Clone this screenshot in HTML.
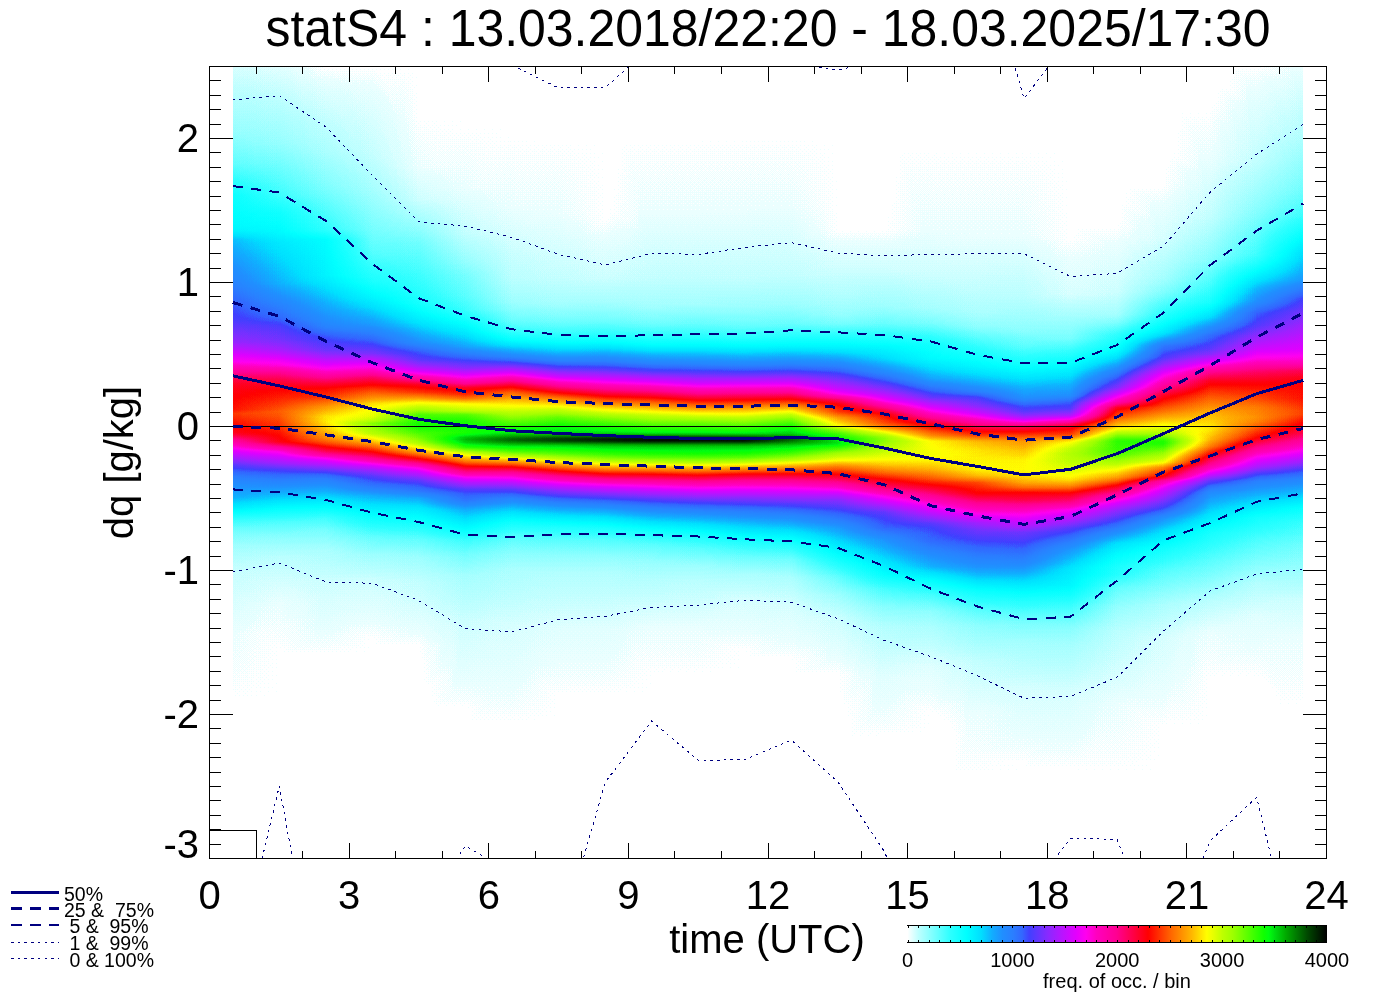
<!DOCTYPE html>
<html><head><meta charset="utf-8"><title>statS4</title>
<style>html,body{margin:0;padding:0;background:#fff;}svg{display:block;}</style>
</head><body>
<svg width="1388" height="992" viewBox="0 0 1388 992">
<defs>
<clipPath id="plotclip"><rect x="209" y="66" width="1118" height="793"/></clipPath>
<linearGradient id="c0" gradientUnits="userSpaceOnUse" x1="0" y1="66.5" x2="0" y2="858.5"><stop offset="0.0013" stop-color="#040404"/><stop offset="0.0833" stop-color="#0c0c0c"/><stop offset="0.1225" stop-color="#131313"/><stop offset="0.1465" stop-color="#1b1b1b"/><stop offset="0.1629" stop-color="#212121"/><stop offset="0.1995" stop-color="#252525"/><stop offset="0.2071" stop-color="#272727"/><stop offset="0.2184" stop-color="#313131"/><stop offset="0.2386" stop-color="#363636"/><stop offset="0.2715" stop-color="#3e3e3e"/><stop offset="0.2980" stop-color="#474747"/><stop offset="0.3207" stop-color="#4c4c4c"/><stop offset="0.3485" stop-color="#585858"/><stop offset="0.3573" stop-color="#606060"/><stop offset="0.3649" stop-color="#676767"/><stop offset="0.3725" stop-color="#6c6c6c"/><stop offset="0.3876" stop-color="#808080"/><stop offset="0.3965" stop-color="#8b8b8b"/><stop offset="0.4028" stop-color="#8f8f8f"/><stop offset="0.4217" stop-color="#939393"/><stop offset="0.4331" stop-color="#959595"/><stop offset="0.4381" stop-color="#9a9a9a"/><stop offset="0.4432" stop-color="#989898"/><stop offset="0.4533" stop-color="#939393"/><stop offset="0.4621" stop-color="#8f8f8f"/><stop offset="0.4646" stop-color="#8c8c8c"/><stop offset="0.4710" stop-color="#7e7e7e"/><stop offset="0.4848" stop-color="#676767"/><stop offset="0.5038" stop-color="#4d4d4d"/><stop offset="0.5177" stop-color="#404040"/><stop offset="0.5278" stop-color="#3a3a3a"/><stop offset="0.5442" stop-color="#333333"/><stop offset="0.5568" stop-color="#292929"/><stop offset="0.5707" stop-color="#1a1a1a"/><stop offset="0.5833" stop-color="#121212"/><stop offset="0.6035" stop-color="#0b0b0b"/><stop offset="0.6313" stop-color="#060606"/><stop offset="0.7146" stop-color="#020202"/><stop offset="0.8889" stop-color="#000000"/><stop offset="0.9987" stop-color="#000000"/></linearGradient>
<linearGradient id="c1" gradientUnits="userSpaceOnUse" x1="0" y1="66.5" x2="0" y2="858.5"><stop offset="0.0013" stop-color="#030303"/><stop offset="0.0972" stop-color="#0c0c0c"/><stop offset="0.1629" stop-color="#181818"/><stop offset="0.1843" stop-color="#202020"/><stop offset="0.2083" stop-color="#252525"/><stop offset="0.2222" stop-color="#2a2a2a"/><stop offset="0.2740" stop-color="#333333"/><stop offset="0.3043" stop-color="#404040"/><stop offset="0.3169" stop-color="#454545"/><stop offset="0.3283" stop-color="#4c4c4c"/><stop offset="0.3447" stop-color="#525252"/><stop offset="0.3573" stop-color="#5a5a5a"/><stop offset="0.3699" stop-color="#686868"/><stop offset="0.3775" stop-color="#6f6f6f"/><stop offset="0.3826" stop-color="#787878"/><stop offset="0.3864" stop-color="#7f7f7f"/><stop offset="0.3952" stop-color="#898989"/><stop offset="0.4091" stop-color="#939393"/><stop offset="0.4280" stop-color="#9b9b9b"/><stop offset="0.4356" stop-color="#9f9f9f"/><stop offset="0.4407" stop-color="#9e9e9e"/><stop offset="0.4482" stop-color="#9b9b9b"/><stop offset="0.4558" stop-color="#989898"/><stop offset="0.4659" stop-color="#939393"/><stop offset="0.4735" stop-color="#909090"/><stop offset="0.4747" stop-color="#8e8e8e"/><stop offset="0.4773" stop-color="#878787"/><stop offset="0.4811" stop-color="#7b7b7b"/><stop offset="0.4861" stop-color="#6e6e6e"/><stop offset="0.4924" stop-color="#646464"/><stop offset="0.5013" stop-color="#585858"/><stop offset="0.5088" stop-color="#4c4c4c"/><stop offset="0.5202" stop-color="#414141"/><stop offset="0.5480" stop-color="#2c2c2c"/><stop offset="0.5619" stop-color="#202020"/><stop offset="0.5745" stop-color="#161616"/><stop offset="0.5922" stop-color="#0e0e0e"/><stop offset="0.6187" stop-color="#070707"/><stop offset="0.6780" stop-color="#020202"/><stop offset="0.7967" stop-color="#000000"/><stop offset="0.9987" stop-color="#000000"/></linearGradient>
<linearGradient id="c2" gradientUnits="userSpaceOnUse" x1="0" y1="66.5" x2="0" y2="858.5"><stop offset="0.0013" stop-color="#010101"/><stop offset="0.1061" stop-color="#090909"/><stop offset="0.1515" stop-color="#0f0f0f"/><stop offset="0.2058" stop-color="#1a1a1a"/><stop offset="0.2121" stop-color="#1f1f1f"/><stop offset="0.2184" stop-color="#242424"/><stop offset="0.2639" stop-color="#272727"/><stop offset="0.3220" stop-color="#3b3b3b"/><stop offset="0.3295" stop-color="#3f3f3f"/><stop offset="0.3396" stop-color="#474747"/><stop offset="0.3586" stop-color="#515151"/><stop offset="0.3674" stop-color="#5b5b5b"/><stop offset="0.3826" stop-color="#6e6e6e"/><stop offset="0.3927" stop-color="#7f7f7f"/><stop offset="0.4003" stop-color="#8b8b8b"/><stop offset="0.4066" stop-color="#939393"/><stop offset="0.4179" stop-color="#9a9a9a"/><stop offset="0.4293" stop-color="#a8a8a8"/><stop offset="0.4419" stop-color="#b3b3b3"/><stop offset="0.4482" stop-color="#b4b4b4"/><stop offset="0.4596" stop-color="#aeaeae"/><stop offset="0.4697" stop-color="#a5a5a5"/><stop offset="0.4760" stop-color="#9b9b9b"/><stop offset="0.4861" stop-color="#878787"/><stop offset="0.4899" stop-color="#7d7d7d"/><stop offset="0.4937" stop-color="#6f6f6f"/><stop offset="0.4975" stop-color="#666666"/><stop offset="0.5139" stop-color="#484848"/><stop offset="0.5202" stop-color="#404040"/><stop offset="0.5505" stop-color="#282828"/><stop offset="0.5581" stop-color="#222222"/><stop offset="0.5694" stop-color="#181818"/><stop offset="0.5859" stop-color="#101010"/><stop offset="0.6111" stop-color="#090909"/><stop offset="0.6490" stop-color="#050505"/><stop offset="0.7412" stop-color="#010101"/><stop offset="0.9987" stop-color="#000000"/></linearGradient>
<linearGradient id="c3" gradientUnits="userSpaceOnUse" x1="0" y1="66.5" x2="0" y2="858.5"><stop offset="0.0013" stop-color="#010101"/><stop offset="0.1136" stop-color="#060606"/><stop offset="0.1566" stop-color="#0a0a0a"/><stop offset="0.2121" stop-color="#111111"/><stop offset="0.2374" stop-color="#151515"/><stop offset="0.2715" stop-color="#1e1e1e"/><stop offset="0.2904" stop-color="#262626"/><stop offset="0.3270" stop-color="#383838"/><stop offset="0.3624" stop-color="#535353"/><stop offset="0.3687" stop-color="#5d5d5d"/><stop offset="0.3763" stop-color="#696969"/><stop offset="0.3838" stop-color="#747474"/><stop offset="0.3927" stop-color="#868686"/><stop offset="0.4066" stop-color="#999999"/><stop offset="0.4205" stop-color="#aaaaaa"/><stop offset="0.4255" stop-color="#b2b2b2"/><stop offset="0.4331" stop-color="#b7b7b7"/><stop offset="0.4419" stop-color="#bbbbbb"/><stop offset="0.4457" stop-color="#bfbfbf"/><stop offset="0.4470" stop-color="#c1c1c1"/><stop offset="0.4495" stop-color="#c7c7c7"/><stop offset="0.4508" stop-color="#c9c9c9"/><stop offset="0.4571" stop-color="#c6c6c6"/><stop offset="0.4634" stop-color="#c1c1c1"/><stop offset="0.4735" stop-color="#aeaeae"/><stop offset="0.4899" stop-color="#8b8b8b"/><stop offset="0.4962" stop-color="#7b7b7b"/><stop offset="0.5038" stop-color="#666666"/><stop offset="0.5101" stop-color="#585858"/><stop offset="0.5177" stop-color="#4d4d4d"/><stop offset="0.5316" stop-color="#404040"/><stop offset="0.5417" stop-color="#343434"/><stop offset="0.5606" stop-color="#272727"/><stop offset="0.5934" stop-color="#131313"/><stop offset="0.6162" stop-color="#0b0b0b"/><stop offset="0.6477" stop-color="#050505"/><stop offset="0.7222" stop-color="#010101"/><stop offset="0.9962" stop-color="#000000"/><stop offset="0.9987" stop-color="#000000"/></linearGradient>
<linearGradient id="c4" gradientUnits="userSpaceOnUse" x1="0" y1="66.5" x2="0" y2="858.5"><stop offset="0.0013" stop-color="#000000"/><stop offset="0.1275" stop-color="#020202"/><stop offset="0.1679" stop-color="#050505"/><stop offset="0.2020" stop-color="#0c0c0c"/><stop offset="0.2222" stop-color="#111111"/><stop offset="0.2778" stop-color="#1a1a1a"/><stop offset="0.2992" stop-color="#1f1f1f"/><stop offset="0.3194" stop-color="#292929"/><stop offset="0.3485" stop-color="#3a3a3a"/><stop offset="0.3598" stop-color="#474747"/><stop offset="0.3699" stop-color="#4e4e4e"/><stop offset="0.3775" stop-color="#585858"/><stop offset="0.3838" stop-color="#636363"/><stop offset="0.3914" stop-color="#757575"/><stop offset="0.4015" stop-color="#8e8e8e"/><stop offset="0.4053" stop-color="#939393"/><stop offset="0.4116" stop-color="#9a9a9a"/><stop offset="0.4179" stop-color="#a7a7a7"/><stop offset="0.4242" stop-color="#b6b6b6"/><stop offset="0.4343" stop-color="#c6c6c6"/><stop offset="0.4394" stop-color="#d0d0d0"/><stop offset="0.4457" stop-color="#d6d6d6"/><stop offset="0.4520" stop-color="#d9d9d9"/><stop offset="0.4558" stop-color="#d8d8d8"/><stop offset="0.4710" stop-color="#c9c9c9"/><stop offset="0.4760" stop-color="#c2c2c2"/><stop offset="0.4874" stop-color="#a8a8a8"/><stop offset="0.4949" stop-color="#939393"/><stop offset="0.5063" stop-color="#6f6f6f"/><stop offset="0.5126" stop-color="#616161"/><stop offset="0.5227" stop-color="#4f4f4f"/><stop offset="0.5278" stop-color="#494949"/><stop offset="0.5366" stop-color="#414141"/><stop offset="0.5455" stop-color="#343434"/><stop offset="0.5581" stop-color="#2a2a2a"/><stop offset="0.5972" stop-color="#131313"/><stop offset="0.6199" stop-color="#0b0b0b"/><stop offset="0.6515" stop-color="#060606"/><stop offset="0.7311" stop-color="#010101"/><stop offset="0.9280" stop-color="#000000"/><stop offset="0.9987" stop-color="#000000"/></linearGradient>
<linearGradient id="c5" gradientUnits="userSpaceOnUse" x1="0" y1="66.5" x2="0" y2="858.5"><stop offset="0.0013" stop-color="#000000"/><stop offset="0.1528" stop-color="#020202"/><stop offset="0.2109" stop-color="#060606"/><stop offset="0.2462" stop-color="#0c0c0c"/><stop offset="0.2626" stop-color="#101010"/><stop offset="0.2904" stop-color="#141414"/><stop offset="0.3068" stop-color="#181818"/><stop offset="0.3169" stop-color="#1e1e1e"/><stop offset="0.3346" stop-color="#292929"/><stop offset="0.3535" stop-color="#353535"/><stop offset="0.3662" stop-color="#444444"/><stop offset="0.3750" stop-color="#4f4f4f"/><stop offset="0.3813" stop-color="#565656"/><stop offset="0.3952" stop-color="#727272"/><stop offset="0.4003" stop-color="#7e7e7e"/><stop offset="0.4053" stop-color="#8d8d8d"/><stop offset="0.4091" stop-color="#929292"/><stop offset="0.4141" stop-color="#989898"/><stop offset="0.4192" stop-color="#a2a2a2"/><stop offset="0.4230" stop-color="#aeaeae"/><stop offset="0.4255" stop-color="#b5b5b5"/><stop offset="0.4293" stop-color="#bababa"/><stop offset="0.4343" stop-color="#c0c0c0"/><stop offset="0.4394" stop-color="#cfcfcf"/><stop offset="0.4407" stop-color="#d1d1d1"/><stop offset="0.4470" stop-color="#d7d7d7"/><stop offset="0.4533" stop-color="#d9d9d9"/><stop offset="0.4621" stop-color="#d8d8d8"/><stop offset="0.4646" stop-color="#dbdbdb"/><stop offset="0.4684" stop-color="#e2e2e2"/><stop offset="0.4710" stop-color="#e4e4e4"/><stop offset="0.4747" stop-color="#e1e1e1"/><stop offset="0.4811" stop-color="#d5d5d5"/><stop offset="0.4874" stop-color="#bfbfbf"/><stop offset="0.5000" stop-color="#9f9f9f"/><stop offset="0.5063" stop-color="#8e8e8e"/><stop offset="0.5126" stop-color="#7e7e7e"/><stop offset="0.5189" stop-color="#6b6b6b"/><stop offset="0.5253" stop-color="#5d5d5d"/><stop offset="0.5341" stop-color="#4d4d4d"/><stop offset="0.5391" stop-color="#484848"/><stop offset="0.5480" stop-color="#424242"/><stop offset="0.5593" stop-color="#343434"/><stop offset="0.5821" stop-color="#252525"/><stop offset="0.5972" stop-color="#191919"/><stop offset="0.6149" stop-color="#111111"/><stop offset="0.6427" stop-color="#0a0a0a"/><stop offset="0.6995" stop-color="#050505"/><stop offset="0.8093" stop-color="#010101"/><stop offset="0.9987" stop-color="#000000"/></linearGradient>
<linearGradient id="c6" gradientUnits="userSpaceOnUse" x1="0" y1="66.5" x2="0" y2="858.5"><stop offset="0.0013" stop-color="#000000"/><stop offset="0.1780" stop-color="#020202"/><stop offset="0.2677" stop-color="#070707"/><stop offset="0.2980" stop-color="#0b0b0b"/><stop offset="0.3207" stop-color="#121212"/><stop offset="0.3346" stop-color="#191919"/><stop offset="0.3447" stop-color="#222222"/><stop offset="0.3548" stop-color="#2f2f2f"/><stop offset="0.3662" stop-color="#3d3d3d"/><stop offset="0.3763" stop-color="#4f4f4f"/><stop offset="0.3851" stop-color="#626262"/><stop offset="0.4040" stop-color="#919191"/><stop offset="0.4116" stop-color="#a0a0a0"/><stop offset="0.4205" stop-color="#adadad"/><stop offset="0.4583" stop-color="#dadada"/><stop offset="0.4634" stop-color="#e0e0e0"/><stop offset="0.4697" stop-color="#eeeeee"/><stop offset="0.4710" stop-color="#efefef"/><stop offset="0.4722" stop-color="#efefef"/><stop offset="0.4747" stop-color="#eaeaea"/><stop offset="0.4798" stop-color="#dddddd"/><stop offset="0.4861" stop-color="#d0d0d0"/><stop offset="0.4912" stop-color="#c2c2c2"/><stop offset="0.5076" stop-color="#8c8c8c"/><stop offset="0.5164" stop-color="#737373"/><stop offset="0.5253" stop-color="#5f5f5f"/><stop offset="0.5341" stop-color="#4e4e4e"/><stop offset="0.5455" stop-color="#3e3e3e"/><stop offset="0.5593" stop-color="#2f2f2f"/><stop offset="0.5758" stop-color="#202020"/><stop offset="0.5909" stop-color="#161616"/><stop offset="0.6124" stop-color="#0e0e0e"/><stop offset="0.6351" stop-color="#090909"/><stop offset="0.7058" stop-color="#040404"/><stop offset="0.8270" stop-color="#010101"/><stop offset="0.9987" stop-color="#000000"/></linearGradient>
<linearGradient id="c7" gradientUnits="userSpaceOnUse" x1="0" y1="66.5" x2="0" y2="858.5"><stop offset="0.0013" stop-color="#000000"/><stop offset="0.1856" stop-color="#020202"/><stop offset="0.2677" stop-color="#060606"/><stop offset="0.2992" stop-color="#0a0a0a"/><stop offset="0.3220" stop-color="#111111"/><stop offset="0.3371" stop-color="#191919"/><stop offset="0.3485" stop-color="#232323"/><stop offset="0.3598" stop-color="#303030"/><stop offset="0.3712" stop-color="#3e3e3e"/><stop offset="0.3813" stop-color="#4e4e4e"/><stop offset="0.3914" stop-color="#626262"/><stop offset="0.4078" stop-color="#898989"/><stop offset="0.4205" stop-color="#a7a7a7"/><stop offset="0.4318" stop-color="#bcbcbc"/><stop offset="0.4432" stop-color="#cecece"/><stop offset="0.4520" stop-color="#d8d8d8"/><stop offset="0.4621" stop-color="#e0e0e0"/><stop offset="0.4646" stop-color="#e5e5e5"/><stop offset="0.4697" stop-color="#f4f4f4"/><stop offset="0.4710" stop-color="#f5f5f5"/><stop offset="0.4722" stop-color="#f5f5f5"/><stop offset="0.4735" stop-color="#f2f2f2"/><stop offset="0.4785" stop-color="#e1e1e1"/><stop offset="0.4823" stop-color="#dadada"/><stop offset="0.4886" stop-color="#d0d0d0"/><stop offset="0.4949" stop-color="#c1c1c1"/><stop offset="0.5164" stop-color="#828282"/><stop offset="0.5265" stop-color="#696969"/><stop offset="0.5354" stop-color="#565656"/><stop offset="0.5455" stop-color="#464646"/><stop offset="0.5568" stop-color="#373737"/><stop offset="0.5707" stop-color="#282828"/><stop offset="0.5821" stop-color="#1d1d1d"/><stop offset="0.5960" stop-color="#151515"/><stop offset="0.6174" stop-color="#0d0d0d"/><stop offset="0.6402" stop-color="#080808"/><stop offset="0.7121" stop-color="#030303"/><stop offset="0.8359" stop-color="#000000"/><stop offset="0.9987" stop-color="#000000"/></linearGradient>
<linearGradient id="c8" gradientUnits="userSpaceOnUse" x1="0" y1="66.5" x2="0" y2="858.5"><stop offset="0.0013" stop-color="#000000"/><stop offset="0.1944" stop-color="#010101"/><stop offset="0.2664" stop-color="#050505"/><stop offset="0.2980" stop-color="#0a0a0a"/><stop offset="0.3207" stop-color="#111111"/><stop offset="0.3371" stop-color="#1a1a1a"/><stop offset="0.3485" stop-color="#242424"/><stop offset="0.3586" stop-color="#303030"/><stop offset="0.3725" stop-color="#404040"/><stop offset="0.3838" stop-color="#505050"/><stop offset="0.3952" stop-color="#656565"/><stop offset="0.4129" stop-color="#8b8b8b"/><stop offset="0.4306" stop-color="#b1b1b1"/><stop offset="0.4419" stop-color="#c6c6c6"/><stop offset="0.4508" stop-color="#d3d3d3"/><stop offset="0.4621" stop-color="#dfdfdf"/><stop offset="0.4646" stop-color="#e5e5e5"/><stop offset="0.4684" stop-color="#f4f4f4"/><stop offset="0.4697" stop-color="#f8f8f8"/><stop offset="0.4710" stop-color="#fafafa"/><stop offset="0.4722" stop-color="#f9f9f9"/><stop offset="0.4735" stop-color="#f6f6f6"/><stop offset="0.4773" stop-color="#e7e7e7"/><stop offset="0.4798" stop-color="#e1e1e1"/><stop offset="0.4899" stop-color="#d3d3d3"/><stop offset="0.4962" stop-color="#c6c6c6"/><stop offset="0.5051" stop-color="#aeaeae"/><stop offset="0.5202" stop-color="#818181"/><stop offset="0.5303" stop-color="#676767"/><stop offset="0.5391" stop-color="#555555"/><stop offset="0.5492" stop-color="#444444"/><stop offset="0.5606" stop-color="#353535"/><stop offset="0.5720" stop-color="#292929"/><stop offset="0.5833" stop-color="#1e1e1e"/><stop offset="0.5972" stop-color="#151515"/><stop offset="0.6174" stop-color="#0d0d0d"/><stop offset="0.6402" stop-color="#080808"/><stop offset="0.7109" stop-color="#030303"/><stop offset="0.8333" stop-color="#000000"/><stop offset="0.9987" stop-color="#000000"/></linearGradient>
<linearGradient id="c9" gradientUnits="userSpaceOnUse" x1="0" y1="66.5" x2="0" y2="858.5"><stop offset="0.0013" stop-color="#000000"/><stop offset="0.1856" stop-color="#020202"/><stop offset="0.2677" stop-color="#060606"/><stop offset="0.3018" stop-color="#0a0a0a"/><stop offset="0.3245" stop-color="#111111"/><stop offset="0.3396" stop-color="#1a1a1a"/><stop offset="0.3510" stop-color="#232323"/><stop offset="0.3611" stop-color="#2f2f2f"/><stop offset="0.3737" stop-color="#3d3d3d"/><stop offset="0.3851" stop-color="#4d4d4d"/><stop offset="0.3965" stop-color="#636363"/><stop offset="0.4255" stop-color="#a3a3a3"/><stop offset="0.4394" stop-color="#bdbdbd"/><stop offset="0.4508" stop-color="#cecece"/><stop offset="0.4609" stop-color="#dbdbdb"/><stop offset="0.4634" stop-color="#e0e0e0"/><stop offset="0.4659" stop-color="#eaeaea"/><stop offset="0.4684" stop-color="#f6f6f6"/><stop offset="0.4697" stop-color="#fbfbfb"/><stop offset="0.4710" stop-color="#fdfdfd"/><stop offset="0.4722" stop-color="#fdfdfd"/><stop offset="0.4735" stop-color="#f9f9f9"/><stop offset="0.4773" stop-color="#e9e9e9"/><stop offset="0.4785" stop-color="#e5e5e5"/><stop offset="0.4811" stop-color="#e0e0e0"/><stop offset="0.4886" stop-color="#d8d8d8"/><stop offset="0.4937" stop-color="#cfcfcf"/><stop offset="0.5000" stop-color="#bfbfbf"/><stop offset="0.5164" stop-color="#8e8e8e"/><stop offset="0.5265" stop-color="#747474"/><stop offset="0.5366" stop-color="#5e5e5e"/><stop offset="0.5467" stop-color="#4d4d4d"/><stop offset="0.5593" stop-color="#3c3c3c"/><stop offset="0.5732" stop-color="#2e2e2e"/><stop offset="0.5884" stop-color="#1e1e1e"/><stop offset="0.6035" stop-color="#141414"/><stop offset="0.6250" stop-color="#0c0c0c"/><stop offset="0.6465" stop-color="#080808"/><stop offset="0.7096" stop-color="#020202"/><stop offset="0.8245" stop-color="#000000"/><stop offset="0.9987" stop-color="#000000"/></linearGradient>
<linearGradient id="c10" gradientUnits="userSpaceOnUse" x1="0" y1="66.5" x2="0" y2="858.5"><stop offset="0.0013" stop-color="#000000"/><stop offset="0.1856" stop-color="#020202"/><stop offset="0.2652" stop-color="#060606"/><stop offset="0.3005" stop-color="#0a0a0a"/><stop offset="0.3245" stop-color="#121212"/><stop offset="0.3409" stop-color="#1b1b1b"/><stop offset="0.3535" stop-color="#262626"/><stop offset="0.3611" stop-color="#2f2f2f"/><stop offset="0.3750" stop-color="#3d3d3d"/><stop offset="0.3876" stop-color="#4f4f4f"/><stop offset="0.3990" stop-color="#626262"/><stop offset="0.4141" stop-color="#828282"/><stop offset="0.4369" stop-color="#b4b4b4"/><stop offset="0.4482" stop-color="#cacaca"/><stop offset="0.4571" stop-color="#d6d6d6"/><stop offset="0.4621" stop-color="#dddddd"/><stop offset="0.4646" stop-color="#e4e4e4"/><stop offset="0.4684" stop-color="#f6f6f6"/><stop offset="0.4697" stop-color="#fbfbfb"/><stop offset="0.4710" stop-color="#fdfdfd"/><stop offset="0.4722" stop-color="#fdfdfd"/><stop offset="0.4735" stop-color="#f9f9f9"/><stop offset="0.4773" stop-color="#e9e9e9"/><stop offset="0.4785" stop-color="#e5e5e5"/><stop offset="0.4811" stop-color="#e0e0e0"/><stop offset="0.4886" stop-color="#d9d9d9"/><stop offset="0.4937" stop-color="#d0d0d0"/><stop offset="0.5000" stop-color="#c1c1c1"/><stop offset="0.5177" stop-color="#8e8e8e"/><stop offset="0.5278" stop-color="#757575"/><stop offset="0.5391" stop-color="#5e5e5e"/><stop offset="0.5505" stop-color="#4b4b4b"/><stop offset="0.5631" stop-color="#3b3b3b"/><stop offset="0.5808" stop-color="#292929"/><stop offset="0.5934" stop-color="#1d1d1d"/><stop offset="0.6086" stop-color="#141414"/><stop offset="0.6301" stop-color="#0b0b0b"/><stop offset="0.6503" stop-color="#070707"/><stop offset="0.7096" stop-color="#020202"/><stop offset="0.8220" stop-color="#000000"/><stop offset="0.9987" stop-color="#000000"/></linearGradient>
<linearGradient id="c11" gradientUnits="userSpaceOnUse" x1="0" y1="66.5" x2="0" y2="858.5"><stop offset="0.0013" stop-color="#000000"/><stop offset="0.1818" stop-color="#020202"/><stop offset="0.2677" stop-color="#060606"/><stop offset="0.3030" stop-color="#0b0b0b"/><stop offset="0.3270" stop-color="#121212"/><stop offset="0.3422" stop-color="#1b1b1b"/><stop offset="0.3535" stop-color="#252525"/><stop offset="0.3636" stop-color="#303030"/><stop offset="0.3763" stop-color="#3d3d3d"/><stop offset="0.3876" stop-color="#4e4e4e"/><stop offset="0.3990" stop-color="#636363"/><stop offset="0.4167" stop-color="#898989"/><stop offset="0.4318" stop-color="#aaaaaa"/><stop offset="0.4457" stop-color="#c4c4c4"/><stop offset="0.4558" stop-color="#d3d3d3"/><stop offset="0.4609" stop-color="#dadada"/><stop offset="0.4634" stop-color="#dfdfdf"/><stop offset="0.4659" stop-color="#e9e9e9"/><stop offset="0.4684" stop-color="#f5f5f5"/><stop offset="0.4697" stop-color="#fafafa"/><stop offset="0.4710" stop-color="#fdfdfd"/><stop offset="0.4722" stop-color="#fcfcfc"/><stop offset="0.4735" stop-color="#f9f9f9"/><stop offset="0.4773" stop-color="#e9e9e9"/><stop offset="0.4798" stop-color="#e2e2e2"/><stop offset="0.4886" stop-color="#d8d8d8"/><stop offset="0.4937" stop-color="#cfcfcf"/><stop offset="0.5000" stop-color="#bebebe"/><stop offset="0.5152" stop-color="#919191"/><stop offset="0.5240" stop-color="#7b7b7b"/><stop offset="0.5341" stop-color="#676767"/><stop offset="0.5455" stop-color="#545454"/><stop offset="0.5593" stop-color="#424242"/><stop offset="0.5758" stop-color="#323232"/><stop offset="0.5859" stop-color="#2a2a2a"/><stop offset="0.6010" stop-color="#1c1c1c"/><stop offset="0.6187" stop-color="#121212"/><stop offset="0.6414" stop-color="#090909"/><stop offset="0.6730" stop-color="#040404"/><stop offset="0.7361" stop-color="#010101"/><stop offset="0.9987" stop-color="#000000"/></linearGradient>
<linearGradient id="c12" gradientUnits="userSpaceOnUse" x1="0" y1="66.5" x2="0" y2="858.5"><stop offset="0.0013" stop-color="#000000"/><stop offset="0.1780" stop-color="#020202"/><stop offset="0.2639" stop-color="#060606"/><stop offset="0.3005" stop-color="#0b0b0b"/><stop offset="0.3245" stop-color="#121212"/><stop offset="0.3396" stop-color="#1b1b1b"/><stop offset="0.3523" stop-color="#252525"/><stop offset="0.3611" stop-color="#2f2f2f"/><stop offset="0.3750" stop-color="#3d3d3d"/><stop offset="0.3864" stop-color="#4d4d4d"/><stop offset="0.3977" stop-color="#616161"/><stop offset="0.4104" stop-color="#7c7c7c"/><stop offset="0.4356" stop-color="#b7b7b7"/><stop offset="0.4444" stop-color="#c9c9c9"/><stop offset="0.4520" stop-color="#d5d5d5"/><stop offset="0.4634" stop-color="#e1e1e1"/><stop offset="0.4672" stop-color="#e9e9e9"/><stop offset="0.4697" stop-color="#eeeeee"/><stop offset="0.4710" stop-color="#f0f0f0"/><stop offset="0.4722" stop-color="#efefef"/><stop offset="0.4747" stop-color="#eaeaea"/><stop offset="0.4785" stop-color="#e1e1e1"/><stop offset="0.4886" stop-color="#d2d2d2"/><stop offset="0.4949" stop-color="#c5c5c5"/><stop offset="0.5063" stop-color="#a7a7a7"/><stop offset="0.5177" stop-color="#8a8a8a"/><stop offset="0.5278" stop-color="#747474"/><stop offset="0.5404" stop-color="#5e5e5e"/><stop offset="0.5530" stop-color="#4c4c4c"/><stop offset="0.5682" stop-color="#3c3c3c"/><stop offset="0.5896" stop-color="#292929"/><stop offset="0.6048" stop-color="#1c1c1c"/><stop offset="0.6225" stop-color="#111111"/><stop offset="0.6452" stop-color="#090909"/><stop offset="0.6806" stop-color="#040404"/><stop offset="0.7475" stop-color="#010101"/><stop offset="0.9987" stop-color="#000000"/></linearGradient>
<linearGradient id="c13" gradientUnits="userSpaceOnUse" x1="0" y1="66.5" x2="0" y2="858.5"><stop offset="0.0013" stop-color="#000000"/><stop offset="0.2071" stop-color="#010101"/><stop offset="0.2588" stop-color="#050505"/><stop offset="0.2879" stop-color="#080808"/><stop offset="0.3131" stop-color="#0c0c0c"/><stop offset="0.3245" stop-color="#101010"/><stop offset="0.3548" stop-color="#272727"/><stop offset="0.3775" stop-color="#3e3e3e"/><stop offset="0.3914" stop-color="#4f4f4f"/><stop offset="0.4066" stop-color="#616161"/><stop offset="0.4129" stop-color="#6c6c6c"/><stop offset="0.4154" stop-color="#737373"/><stop offset="0.4205" stop-color="#858585"/><stop offset="0.4255" stop-color="#909090"/><stop offset="0.4293" stop-color="#959595"/><stop offset="0.4356" stop-color="#9a9a9a"/><stop offset="0.4381" stop-color="#9e9e9e"/><stop offset="0.4432" stop-color="#a9a9a9"/><stop offset="0.4533" stop-color="#b7b7b7"/><stop offset="0.4558" stop-color="#bfbfbf"/><stop offset="0.4583" stop-color="#c7c7c7"/><stop offset="0.4634" stop-color="#d2d2d2"/><stop offset="0.4710" stop-color="#dddddd"/><stop offset="0.4747" stop-color="#dfdfdf"/><stop offset="0.4773" stop-color="#dddddd"/><stop offset="0.4823" stop-color="#d2d2d2"/><stop offset="0.4874" stop-color="#c7c7c7"/><stop offset="0.4975" stop-color="#b6b6b6"/><stop offset="0.5051" stop-color="#a4a4a4"/><stop offset="0.5189" stop-color="#8b8b8b"/><stop offset="0.5404" stop-color="#606060"/><stop offset="0.5467" stop-color="#565656"/><stop offset="0.5606" stop-color="#494949"/><stop offset="0.5732" stop-color="#3f3f3f"/><stop offset="0.5821" stop-color="#373737"/><stop offset="0.6439" stop-color="#131313"/><stop offset="0.6667" stop-color="#0b0b0b"/><stop offset="0.6957" stop-color="#050505"/><stop offset="0.7664" stop-color="#010101"/><stop offset="0.9634" stop-color="#000000"/><stop offset="0.9987" stop-color="#000000"/></linearGradient>
<linearGradient id="c14" gradientUnits="userSpaceOnUse" x1="0" y1="66.5" x2="0" y2="858.5"><stop offset="0.0013" stop-color="#000000"/><stop offset="0.2071" stop-color="#010101"/><stop offset="0.2588" stop-color="#050505"/><stop offset="0.3030" stop-color="#0b0b0b"/><stop offset="0.3245" stop-color="#121212"/><stop offset="0.3409" stop-color="#1c1c1c"/><stop offset="0.3535" stop-color="#252525"/><stop offset="0.3699" stop-color="#2e2e2e"/><stop offset="0.3851" stop-color="#3b3b3b"/><stop offset="0.3939" stop-color="#454545"/><stop offset="0.4104" stop-color="#595959"/><stop offset="0.4217" stop-color="#6b6b6b"/><stop offset="0.4268" stop-color="#777777"/><stop offset="0.4356" stop-color="#8c8c8c"/><stop offset="0.4394" stop-color="#939393"/><stop offset="0.4495" stop-color="#9c9c9c"/><stop offset="0.4545" stop-color="#a3a3a3"/><stop offset="0.4571" stop-color="#aaaaaa"/><stop offset="0.4609" stop-color="#b6b6b6"/><stop offset="0.4672" stop-color="#c5c5c5"/><stop offset="0.4697" stop-color="#c8c8c8"/><stop offset="0.4735" stop-color="#c8c8c8"/><stop offset="0.4949" stop-color="#b8b8b8"/><stop offset="0.5038" stop-color="#aeaeae"/><stop offset="0.5126" stop-color="#a1a1a1"/><stop offset="0.5215" stop-color="#929292"/><stop offset="0.5316" stop-color="#848484"/><stop offset="0.5417" stop-color="#6f6f6f"/><stop offset="0.5543" stop-color="#5b5b5b"/><stop offset="0.5631" stop-color="#4f4f4f"/><stop offset="0.5694" stop-color="#4b4b4b"/><stop offset="0.5821" stop-color="#464646"/><stop offset="0.5972" stop-color="#393939"/><stop offset="0.6414" stop-color="#232323"/><stop offset="0.6591" stop-color="#171717"/><stop offset="0.6818" stop-color="#0e0e0e"/><stop offset="0.7071" stop-color="#080808"/><stop offset="0.7702" stop-color="#030303"/><stop offset="0.8838" stop-color="#000000"/><stop offset="0.9987" stop-color="#000000"/></linearGradient>
<linearGradient id="c15" gradientUnits="userSpaceOnUse" x1="0" y1="66.5" x2="0" y2="858.5"><stop offset="0.0013" stop-color="#000000"/><stop offset="0.2071" stop-color="#020202"/><stop offset="0.2639" stop-color="#050505"/><stop offset="0.3056" stop-color="#0a0a0a"/><stop offset="0.3245" stop-color="#101010"/><stop offset="0.3409" stop-color="#1a1a1a"/><stop offset="0.3510" stop-color="#202020"/><stop offset="0.3687" stop-color="#252525"/><stop offset="0.3939" stop-color="#353535"/><stop offset="0.4091" stop-color="#464646"/><stop offset="0.4179" stop-color="#505050"/><stop offset="0.4242" stop-color="#5b5b5b"/><stop offset="0.4331" stop-color="#6a6a6a"/><stop offset="0.4394" stop-color="#767676"/><stop offset="0.4508" stop-color="#8e8e8e"/><stop offset="0.4659" stop-color="#a6a6a6"/><stop offset="0.4722" stop-color="#b4b4b4"/><stop offset="0.4735" stop-color="#b6b6b6"/><stop offset="0.4899" stop-color="#b8b8b8"/><stop offset="0.4975" stop-color="#b5b5b5"/><stop offset="0.5088" stop-color="#acacac"/><stop offset="0.5202" stop-color="#9e9e9e"/><stop offset="0.5366" stop-color="#868686"/><stop offset="0.5505" stop-color="#717171"/><stop offset="0.5644" stop-color="#5e5e5e"/><stop offset="0.5770" stop-color="#4e4e4e"/><stop offset="0.5821" stop-color="#4a4a4a"/><stop offset="0.5985" stop-color="#454545"/><stop offset="0.6187" stop-color="#393939"/><stop offset="0.6313" stop-color="#333333"/><stop offset="0.6490" stop-color="#232323"/><stop offset="0.6667" stop-color="#171717"/><stop offset="0.6881" stop-color="#0d0d0d"/><stop offset="0.7071" stop-color="#090909"/><stop offset="0.7588" stop-color="#030303"/><stop offset="0.8434" stop-color="#000000"/><stop offset="0.9987" stop-color="#000000"/></linearGradient>
<linearGradient id="c16" gradientUnits="userSpaceOnUse" x1="0" y1="66.5" x2="0" y2="858.5"><stop offset="0.0013" stop-color="#000000"/><stop offset="0.2134" stop-color="#020202"/><stop offset="0.2803" stop-color="#060606"/><stop offset="0.3106" stop-color="#090909"/><stop offset="0.3283" stop-color="#0d0d0d"/><stop offset="0.3801" stop-color="#272727"/><stop offset="0.3990" stop-color="#343434"/><stop offset="0.4104" stop-color="#3f3f3f"/><stop offset="0.4179" stop-color="#4b4b4b"/><stop offset="0.4293" stop-color="#565656"/><stop offset="0.4369" stop-color="#616161"/><stop offset="0.4583" stop-color="#8e8e8e"/><stop offset="0.4659" stop-color="#9b9b9b"/><stop offset="0.4722" stop-color="#ababab"/><stop offset="0.4747" stop-color="#aeaeae"/><stop offset="0.4848" stop-color="#b3b3b3"/><stop offset="0.5038" stop-color="#b6b6b6"/><stop offset="0.5088" stop-color="#b5b5b5"/><stop offset="0.5164" stop-color="#aeaeae"/><stop offset="0.5189" stop-color="#aaaaaa"/><stop offset="0.5253" stop-color="#9c9c9c"/><stop offset="0.5303" stop-color="#989898"/><stop offset="0.5391" stop-color="#929292"/><stop offset="0.5455" stop-color="#888888"/><stop offset="0.5530" stop-color="#7c7c7c"/><stop offset="0.5644" stop-color="#6d6d6d"/><stop offset="0.5758" stop-color="#5a5a5a"/><stop offset="0.5846" stop-color="#525252"/><stop offset="0.6010" stop-color="#494949"/><stop offset="0.6313" stop-color="#393939"/><stop offset="0.6427" stop-color="#313131"/><stop offset="0.6629" stop-color="#212121"/><stop offset="0.6843" stop-color="#151515"/><stop offset="0.7058" stop-color="#0d0d0d"/><stop offset="0.7513" stop-color="#060606"/><stop offset="0.8157" stop-color="#020202"/><stop offset="0.9722" stop-color="#000000"/><stop offset="0.9987" stop-color="#000000"/></linearGradient>
<linearGradient id="c17" gradientUnits="userSpaceOnUse" x1="0" y1="66.5" x2="0" y2="858.5"><stop offset="0.0013" stop-color="#000000"/><stop offset="0.2134" stop-color="#020202"/><stop offset="0.2904" stop-color="#070707"/><stop offset="0.3321" stop-color="#0d0d0d"/><stop offset="0.3535" stop-color="#141414"/><stop offset="0.3712" stop-color="#1d1d1d"/><stop offset="0.4091" stop-color="#353535"/><stop offset="0.4179" stop-color="#393939"/><stop offset="0.4230" stop-color="#404040"/><stop offset="0.4280" stop-color="#474747"/><stop offset="0.4356" stop-color="#4e4e4e"/><stop offset="0.4407" stop-color="#565656"/><stop offset="0.4444" stop-color="#5f5f5f"/><stop offset="0.4482" stop-color="#6c6c6c"/><stop offset="0.4508" stop-color="#777777"/><stop offset="0.4533" stop-color="#828282"/><stop offset="0.4558" stop-color="#898989"/><stop offset="0.4646" stop-color="#999999"/><stop offset="0.4735" stop-color="#a8a8a8"/><stop offset="0.4836" stop-color="#aeaeae"/><stop offset="0.4975" stop-color="#b5b5b5"/><stop offset="0.5088" stop-color="#b6b6b6"/><stop offset="0.5164" stop-color="#b3b3b3"/><stop offset="0.5253" stop-color="#ababab"/><stop offset="0.5316" stop-color="#a1a1a1"/><stop offset="0.5379" stop-color="#939393"/><stop offset="0.5480" stop-color="#888888"/><stop offset="0.5593" stop-color="#757575"/><stop offset="0.5682" stop-color="#6a6a6a"/><stop offset="0.5795" stop-color="#5e5e5e"/><stop offset="0.5884" stop-color="#515151"/><stop offset="0.5960" stop-color="#4d4d4d"/><stop offset="0.6263" stop-color="#3d3d3d"/><stop offset="0.6566" stop-color="#282828"/><stop offset="0.6768" stop-color="#1b1b1b"/><stop offset="0.7008" stop-color="#101010"/><stop offset="0.7260" stop-color="#0a0a0a"/><stop offset="0.7854" stop-color="#040404"/><stop offset="0.8788" stop-color="#010101"/><stop offset="0.9987" stop-color="#000000"/></linearGradient>
<linearGradient id="c18" gradientUnits="userSpaceOnUse" x1="0" y1="66.5" x2="0" y2="858.5"><stop offset="0.0013" stop-color="#000000"/><stop offset="0.2184" stop-color="#010101"/><stop offset="0.2879" stop-color="#040404"/><stop offset="0.3434" stop-color="#101010"/><stop offset="0.3573" stop-color="#181818"/><stop offset="0.4003" stop-color="#323232"/><stop offset="0.4154" stop-color="#3a3a3a"/><stop offset="0.4242" stop-color="#474747"/><stop offset="0.4318" stop-color="#4d4d4d"/><stop offset="0.4369" stop-color="#555555"/><stop offset="0.4407" stop-color="#5d5d5d"/><stop offset="0.4457" stop-color="#6e6e6e"/><stop offset="0.4508" stop-color="#848484"/><stop offset="0.4545" stop-color="#8d8d8d"/><stop offset="0.4596" stop-color="#959595"/><stop offset="0.4646" stop-color="#9b9b9b"/><stop offset="0.4672" stop-color="#a1a1a1"/><stop offset="0.4722" stop-color="#b2b2b2"/><stop offset="0.4747" stop-color="#b7b7b7"/><stop offset="0.4823" stop-color="#bfbfbf"/><stop offset="0.4886" stop-color="#c2c2c2"/><stop offset="0.4987" stop-color="#c0c0c0"/><stop offset="0.5126" stop-color="#bababa"/><stop offset="0.5215" stop-color="#b3b3b3"/><stop offset="0.5290" stop-color="#a7a7a7"/><stop offset="0.5391" stop-color="#919191"/><stop offset="0.5505" stop-color="#808080"/><stop offset="0.5593" stop-color="#6d6d6d"/><stop offset="0.5682" stop-color="#616161"/><stop offset="0.5833" stop-color="#4d4d4d"/><stop offset="0.6010" stop-color="#3f3f3f"/><stop offset="0.6098" stop-color="#383838"/><stop offset="0.6338" stop-color="#2b2b2b"/><stop offset="0.6490" stop-color="#272727"/><stop offset="0.6553" stop-color="#262626"/><stop offset="0.6793" stop-color="#191919"/><stop offset="0.7083" stop-color="#0e0e0e"/><stop offset="0.7298" stop-color="#0a0a0a"/><stop offset="0.7904" stop-color="#040404"/><stop offset="0.8851" stop-color="#010101"/><stop offset="0.9987" stop-color="#000000"/></linearGradient>
<linearGradient id="c19" gradientUnits="userSpaceOnUse" x1="0" y1="66.5" x2="0" y2="858.5"><stop offset="0.0013" stop-color="#000000"/><stop offset="0.2033" stop-color="#010101"/><stop offset="0.2854" stop-color="#050505"/><stop offset="0.3131" stop-color="#0a0a0a"/><stop offset="0.3232" stop-color="#0f0f0f"/><stop offset="0.3371" stop-color="#191919"/><stop offset="0.3586" stop-color="#242424"/><stop offset="0.3737" stop-color="#323232"/><stop offset="0.3939" stop-color="#484848"/><stop offset="0.4053" stop-color="#545454"/><stop offset="0.4116" stop-color="#606060"/><stop offset="0.4230" stop-color="#777777"/><stop offset="0.4268" stop-color="#828282"/><stop offset="0.4306" stop-color="#8e8e8e"/><stop offset="0.4343" stop-color="#949494"/><stop offset="0.4419" stop-color="#9d9d9d"/><stop offset="0.4558" stop-color="#b3b3b3"/><stop offset="0.4609" stop-color="#bebebe"/><stop offset="0.4659" stop-color="#cacaca"/><stop offset="0.4710" stop-color="#d3d3d3"/><stop offset="0.4735" stop-color="#d5d5d5"/><stop offset="0.4836" stop-color="#d4d4d4"/><stop offset="0.4899" stop-color="#d0d0d0"/><stop offset="0.5038" stop-color="#bebebe"/><stop offset="0.5189" stop-color="#a9a9a9"/><stop offset="0.5227" stop-color="#a1a1a1"/><stop offset="0.5290" stop-color="#929292"/><stop offset="0.5417" stop-color="#787878"/><stop offset="0.5518" stop-color="#646464"/><stop offset="0.5593" stop-color="#585858"/><stop offset="0.5758" stop-color="#474747"/><stop offset="0.6023" stop-color="#2c2c2c"/><stop offset="0.6149" stop-color="#252525"/><stop offset="0.6313" stop-color="#1e1e1e"/><stop offset="0.6414" stop-color="#1c1c1c"/><stop offset="0.6578" stop-color="#131313"/><stop offset="0.6831" stop-color="#0c0c0c"/><stop offset="0.7134" stop-color="#070707"/><stop offset="0.8043" stop-color="#020202"/><stop offset="0.9798" stop-color="#000000"/><stop offset="0.9987" stop-color="#000000"/></linearGradient>
<linearGradient id="c20" gradientUnits="userSpaceOnUse" x1="0" y1="66.5" x2="0" y2="858.5"><stop offset="0.0013" stop-color="#000000"/><stop offset="0.1515" stop-color="#010101"/><stop offset="0.2172" stop-color="#040404"/><stop offset="0.2677" stop-color="#0a0a0a"/><stop offset="0.2854" stop-color="#0f0f0f"/><stop offset="0.3169" stop-color="#1d1d1d"/><stop offset="0.3359" stop-color="#2a2a2a"/><stop offset="0.3409" stop-color="#303030"/><stop offset="0.3523" stop-color="#414141"/><stop offset="0.3598" stop-color="#474747"/><stop offset="0.3674" stop-color="#4c4c4c"/><stop offset="0.3763" stop-color="#575757"/><stop offset="0.3876" stop-color="#686868"/><stop offset="0.4040" stop-color="#7d7d7d"/><stop offset="0.4154" stop-color="#8e8e8e"/><stop offset="0.4343" stop-color="#a1a1a1"/><stop offset="0.4571" stop-color="#bcbcbc"/><stop offset="0.4634" stop-color="#c4c4c4"/><stop offset="0.4710" stop-color="#d4d4d4"/><stop offset="0.4735" stop-color="#d7d7d7"/><stop offset="0.4760" stop-color="#d7d7d7"/><stop offset="0.4798" stop-color="#d3d3d3"/><stop offset="0.4874" stop-color="#c8c8c8"/><stop offset="0.4975" stop-color="#bbbbbb"/><stop offset="0.5000" stop-color="#b7b7b7"/><stop offset="0.5063" stop-color="#a5a5a5"/><stop offset="0.5101" stop-color="#9e9e9e"/><stop offset="0.5164" stop-color="#949494"/><stop offset="0.5177" stop-color="#919191"/><stop offset="0.5202" stop-color="#888888"/><stop offset="0.5227" stop-color="#7d7d7d"/><stop offset="0.5240" stop-color="#787878"/><stop offset="0.5290" stop-color="#6d6d6d"/><stop offset="0.5366" stop-color="#616161"/><stop offset="0.5467" stop-color="#555555"/><stop offset="0.5581" stop-color="#494949"/><stop offset="0.5707" stop-color="#393939"/><stop offset="0.5859" stop-color="#2d2d2d"/><stop offset="0.6086" stop-color="#202020"/><stop offset="0.6351" stop-color="#151515"/><stop offset="0.6793" stop-color="#090909"/><stop offset="0.7210" stop-color="#040404"/><stop offset="0.8333" stop-color="#010101"/><stop offset="0.9987" stop-color="#000000"/></linearGradient>
<linearGradient id="c21" gradientUnits="userSpaceOnUse" x1="0" y1="66.5" x2="0" y2="858.5"><stop offset="0.0013" stop-color="#000000"/><stop offset="0.1149" stop-color="#020202"/><stop offset="0.1894" stop-color="#060606"/><stop offset="0.2437" stop-color="#0e0e0e"/><stop offset="0.2765" stop-color="#171717"/><stop offset="0.2980" stop-color="#1f1f1f"/><stop offset="0.3169" stop-color="#2d2d2d"/><stop offset="0.3295" stop-color="#3a3a3a"/><stop offset="0.3396" stop-color="#444444"/><stop offset="0.3573" stop-color="#4f4f4f"/><stop offset="0.3636" stop-color="#565656"/><stop offset="0.3699" stop-color="#616161"/><stop offset="0.3851" stop-color="#7e7e7e"/><stop offset="0.3965" stop-color="#8e8e8e"/><stop offset="0.4066" stop-color="#979797"/><stop offset="0.4381" stop-color="#adadad"/><stop offset="0.4533" stop-color="#b3b3b3"/><stop offset="0.4596" stop-color="#b3b3b3"/><stop offset="0.4710" stop-color="#adadad"/><stop offset="0.4798" stop-color="#a4a4a4"/><stop offset="0.4848" stop-color="#9b9b9b"/><stop offset="0.4924" stop-color="#8e8e8e"/><stop offset="0.5025" stop-color="#7e7e7e"/><stop offset="0.5126" stop-color="#696969"/><stop offset="0.5227" stop-color="#505050"/><stop offset="0.5303" stop-color="#444444"/><stop offset="0.5379" stop-color="#3b3b3b"/><stop offset="0.5480" stop-color="#353535"/><stop offset="0.5682" stop-color="#2a2a2a"/><stop offset="0.5884" stop-color="#1f1f1f"/><stop offset="0.6237" stop-color="#141414"/><stop offset="0.6755" stop-color="#070707"/><stop offset="0.7146" stop-color="#020202"/><stop offset="0.8308" stop-color="#000000"/><stop offset="0.9987" stop-color="#000000"/></linearGradient>
<linearGradient id="c22" gradientUnits="userSpaceOnUse" x1="0" y1="66.5" x2="0" y2="858.5"><stop offset="0.0013" stop-color="#010101"/><stop offset="0.1199" stop-color="#060606"/><stop offset="0.1768" stop-color="#0d0d0d"/><stop offset="0.2386" stop-color="#181818"/><stop offset="0.2487" stop-color="#1d1d1d"/><stop offset="0.2790" stop-color="#313131"/><stop offset="0.2967" stop-color="#3a3a3a"/><stop offset="0.3106" stop-color="#464646"/><stop offset="0.3270" stop-color="#4d4d4d"/><stop offset="0.3573" stop-color="#636363"/><stop offset="0.3699" stop-color="#6f6f6f"/><stop offset="0.3801" stop-color="#7e7e7e"/><stop offset="0.3864" stop-color="#868686"/><stop offset="0.3990" stop-color="#919191"/><stop offset="0.4205" stop-color="#9d9d9d"/><stop offset="0.4306" stop-color="#a4a4a4"/><stop offset="0.4432" stop-color="#a7a7a7"/><stop offset="0.4482" stop-color="#a5a5a5"/><stop offset="0.4684" stop-color="#939393"/><stop offset="0.4773" stop-color="#858585"/><stop offset="0.4937" stop-color="#6b6b6b"/><stop offset="0.5051" stop-color="#5c5c5c"/><stop offset="0.5152" stop-color="#4a4a4a"/><stop offset="0.5240" stop-color="#3f3f3f"/><stop offset="0.5391" stop-color="#343434"/><stop offset="0.5694" stop-color="#202020"/><stop offset="0.5972" stop-color="#161616"/><stop offset="0.6515" stop-color="#080808"/><stop offset="0.6944" stop-color="#030303"/><stop offset="0.8081" stop-color="#000000"/><stop offset="0.9987" stop-color="#000000"/></linearGradient>
<linearGradient id="c23" gradientUnits="userSpaceOnUse" x1="0" y1="66.5" x2="0" y2="858.5"><stop offset="0.0013" stop-color="#020202"/><stop offset="0.0859" stop-color="#080808"/><stop offset="0.1566" stop-color="#111111"/><stop offset="0.1881" stop-color="#181818"/><stop offset="0.2323" stop-color="#2b2b2b"/><stop offset="0.2538" stop-color="#323232"/><stop offset="0.2702" stop-color="#383838"/><stop offset="0.2929" stop-color="#4a4a4a"/><stop offset="0.3422" stop-color="#606060"/><stop offset="0.3586" stop-color="#676767"/><stop offset="0.3699" stop-color="#707070"/><stop offset="0.3750" stop-color="#777777"/><stop offset="0.3838" stop-color="#878787"/><stop offset="0.3927" stop-color="#8f8f8f"/><stop offset="0.4015" stop-color="#939393"/><stop offset="0.4192" stop-color="#959595"/><stop offset="0.4343" stop-color="#9b9b9b"/><stop offset="0.4394" stop-color="#9b9b9b"/><stop offset="0.4470" stop-color="#959595"/><stop offset="0.4634" stop-color="#888888"/><stop offset="0.5013" stop-color="#565656"/><stop offset="0.5101" stop-color="#494949"/><stop offset="0.5215" stop-color="#3d3d3d"/><stop offset="0.5442" stop-color="#2d2d2d"/><stop offset="0.5568" stop-color="#232323"/><stop offset="0.5758" stop-color="#191919"/><stop offset="0.6048" stop-color="#111111"/><stop offset="0.6730" stop-color="#050505"/><stop offset="0.7210" stop-color="#020202"/><stop offset="0.8927" stop-color="#000000"/><stop offset="0.9987" stop-color="#000000"/></linearGradient>
<filter id="cm" filterUnits="userSpaceOnUse" x="230" y="60" width="1080" height="805" color-interpolation-filters="sRGB"><feComponentTransfer><feFuncR type="table" tableValues="1 1 0.9225 0.8837 0.845 0.8062 0.7675 0.7345 0.705 0.6754 0.6459 0.6164 0.5869 0.5573 0.5278 0.4983 0.4687 0.4392 0.4097 0.3802 0.3506 0.3211 0.2916 0.2621 0.2325 0.203 0.1784 0.1587 0.139 0.1193 0.09965 0.07997 0.06069 0.04429 0.02789 0.01148 0 0 0 0 0 0 0 0 0 0.003691 0.01353 0.02338 0.03322 0.04306 0.0529 0.06275 0.07259 0.08243 0.09227 0.1021 0.112 0.1218 0.1293 0.1355 0.1416 0.1478 0.1539 0.1601 0.1661 0.1716 0.1772 0.1827 0.1882 0.1938 0.1993 0.2117 0.225 0.2383 0.2523 0.2777 0.3032 0.3287 0.3542 0.3797 0.4052 0.4306 0.4561 0.4814 0.5047 0.5281 0.5515 0.5749 0.5982 0.6216 0.6422 0.6619 0.6816 0.7013 0.721 0.7406 0.7603 0.78 0.7997 0.8194 0.8391 0.8587 0.8784 0.8975 0.9166 0.9356 0.9547 0.9738 0.9928 1 1 1 1 1 1 1 1 1 1 1 1 1 1 1 1 1 1 1 1 1 1 1 1 1 1 1 1 1 1 1 1 1 1 1 1 1 1 1 1 1 1 1 1 1 1 1 1 1 1 1 1 1 1 1 1 1 1 1 1 1 1 1 1 1 1 1 1 1 1 1 1 1 1 0.9844 0.9614 0.9375 0.908 0.8784 0.8489 0.8194 0.7899 0.7603 0.7382 0.7185 0.6988 0.6791 0.6594 0.6398 0.6164 0.5869 0.5573 0.5278 0.4983 0.4687 0.4392 0.4097 0.3802 0.3506 0.3211 0.2916 0.2621 0.2325 0.203 0.1735 0.1439 0.1144 0.08489 0.05782 0.03814 0.01845 0 0 0 0 0 0 0 0 0 0 0 0 0 0 0 0 0 0 0 0 0 0 0 0 0 0 0 0 0 0 0 0 0 0 0 0"/><feFuncG type="table" tableValues="1 1 1 1 1 1 1 1 1 1 1 1 1 1 1 1 1 1 1 1 1 1 1 1 1 1 1 1 1 1 1 1 1 1 1 1 0.9959 0.9823 0.9687 0.9551 0.9414 0.9278 0.9142 0.9006 0.8869 0.8674 0.8378 0.8083 0.7788 0.7493 0.7197 0.6902 0.6705 0.6508 0.6311 0.6115 0.5918 0.5721 0.5586 0.5487 0.5389 0.529 0.5192 0.5093 0.498 0.482 0.466 0.45 0.434 0.418 0.402 0.3659 0.327 0.288 0.2506 0.2436 0.2366 0.2295 0.2225 0.2155 0.2084 0.2014 0.1944 0.187 0.1772 0.1673 0.1575 0.1476 0.1378 0.128 0.1181 0.1083 0.09842 0.08858 0.07874 0.0689 0.05905 0.04921 0.03937 0.02953 0.01968 0.009842 0 0 0 0 0 0 0 0 0 0 0 0 0 0 0 0 0 0 0 0 0 0 0 0 0 0 0 0 0 0 0 0 0 0 0 0 0 0 0 0 0 0 0 0 0 0.01107 0.0406 0.07013 0.09965 0.1292 0.1587 0.1882 0.2178 0.2473 0.2768 0.3063 0.3359 0.3654 0.3918 0.4165 0.4411 0.4657 0.4903 0.5149 0.5395 0.5641 0.5887 0.6133 0.6379 0.6625 0.6871 0.716 0.7456 0.7751 0.8046 0.8341 0.8637 0.8943 0.9261 0.9579 0.9897 1 1 1 1 1 1 1 1 1 1 1 1 1 1 1 1 1 1 1 1 1 1 1 1 1 1 1 1 1 1 1 1 1 1 1 1 1 0.9976 0.9595 0.9213 0.8832 0.8526 0.8231 0.7935 0.764 0.7345 0.705 0.6754 0.6459 0.6164 0.5869 0.5573 0.5278 0.4983 0.4687 0.4392 0.4097 0.3802 0.3506 0.3211 0.2953 0.2707 0.2461 0.2215 0.1968 0.1722 0.1476 0.123 0.09842 0.07382 0.04921 0.02461 0"/><feFuncB type="table" tableValues="1 1 1 1 1 1 1 1 1 1 1 1 1 1 1 1 1 1 1 1 1 1 1 1 1 1 1 1 1 1 1 1 1 1 1 1 1 1 1 1 1 1 1 1 1 1 1 1 1 1 1 1 1 1 1 1 1 1 1 1 1 1 1 1 1 1 1 1 1 1 1 1 1 1 1 1 1 1 1 1 1 1 1 1 1 1 1 1 1 1 1 1 1 1 1 1 1 1 1 1 1 1 1 0.9908 0.9815 0.9723 0.9631 0.9539 0.9446 0.9227 0.8932 0.8637 0.8341 0.8046 0.7751 0.7493 0.7345 0.7197 0.705 0.6902 0.6754 0.6607 0.6459 0.6311 0.6164 0.6016 0.5869 0.5721 0.5499 0.5204 0.4909 0.4614 0.4318 0.4023 0.3728 0.3433 0.3137 0.2842 0.2547 0.2251 0.1956 0.1661 0.1366 0.107 0.07751 0.04798 0.01845 0 0 0 0 0 0 0 0 0 0 0 0 0 0 0 0 0 0 0 0 0 0 0 0 0 0 0 0 0 0 0 0 0 0 0 0 0 0 0 0 0 0 0 0 0 0 0 0 0 0 0 0 0 0 0 0 0 0 0 0 0 0 0 0 0 0 0 0 0 0 0.004921 0.02461 0.04429 0.06275 0.06275 0.06275 0.06275 0.05413 0.04429 0.03445 0.02461 0.01476 0.004921 0 0 0 0 0 0 0 0 0 0 0 0 0 0 0 0 0 0 0 0 0 0 0 0 0 0"/></feComponentTransfer></filter>
<linearGradient id="cb" x1="0" y1="0" x2="1" y2="0"><stop offset="0.0000" stop-color="#ffffff"/><stop offset="0.0262" stop-color="#beffff"/><stop offset="0.1024" stop-color="#2dffff"/><stop offset="0.1357" stop-color="#05ffff"/><stop offset="0.1405" stop-color="#00ffff"/><stop offset="0.1762" stop-color="#01deff"/><stop offset="0.2024" stop-color="#12adff"/><stop offset="0.2262" stop-color="#208fff"/><stop offset="0.2524" stop-color="#2b7eff"/><stop offset="0.2738" stop-color="#3367ff"/><stop offset="0.2905" stop-color="#4140ff"/><stop offset="0.3357" stop-color="#8a29ff"/><stop offset="0.3595" stop-color="#ac1aff"/><stop offset="0.4024" stop-color="#e300fe"/><stop offset="0.4262" stop-color="#ff00ee"/><stop offset="0.4500" stop-color="#ff00c0"/><stop offset="0.5000" stop-color="#ff0090"/><stop offset="0.5738" stop-color="#ff0002"/><stop offset="0.5786" stop-color="#ff0700"/><stop offset="0.6286" stop-color="#ff6600"/><stop offset="0.6786" stop-color="#ffb700"/><stop offset="0.7143" stop-color="#fffe00"/><stop offset="0.7286" stop-color="#e9ff00"/><stop offset="0.7524" stop-color="#bdff00"/><stop offset="0.7762" stop-color="#9eff00"/><stop offset="0.8500" stop-color="#10ff00"/><stop offset="0.8619" stop-color="#01ff0f"/><stop offset="0.8762" stop-color="#00de0f"/><stop offset="0.9024" stop-color="#00ab00"/><stop offset="0.9548" stop-color="#004800"/><stop offset="1.0000" stop-color="#000000"/></linearGradient>
</defs>
<rect width="1388" height="992" fill="#fff"/>
<g filter="url(#cm)">
<rect x="233.00" y="66.5" width="46.00" height="792" fill="url(#c1)"/>
<rect x="233" y="66.5" width="2" height="792" fill="url(#c0)" opacity="0.974"/>
<rect x="235" y="66.5" width="2" height="792" fill="url(#c0)" opacity="0.931"/>
<rect x="237" y="66.5" width="2" height="792" fill="url(#c0)" opacity="0.888"/>
<rect x="239" y="66.5" width="2" height="792" fill="url(#c0)" opacity="0.845"/>
<rect x="241" y="66.5" width="2" height="792" fill="url(#c0)" opacity="0.802"/>
<rect x="243" y="66.5" width="2" height="792" fill="url(#c0)" opacity="0.759"/>
<rect x="245" y="66.5" width="2" height="792" fill="url(#c0)" opacity="0.716"/>
<rect x="247" y="66.5" width="2" height="792" fill="url(#c0)" opacity="0.673"/>
<rect x="249" y="66.5" width="2" height="792" fill="url(#c0)" opacity="0.630"/>
<rect x="251" y="66.5" width="2" height="792" fill="url(#c0)" opacity="0.587"/>
<rect x="253" y="66.5" width="2" height="792" fill="url(#c0)" opacity="0.544"/>
<rect x="255" y="66.5" width="2" height="792" fill="url(#c0)" opacity="0.501"/>
<rect x="257" y="66.5" width="2" height="792" fill="url(#c0)" opacity="0.458"/>
<rect x="259" y="66.5" width="2" height="792" fill="url(#c0)" opacity="0.415"/>
<rect x="261" y="66.5" width="2" height="792" fill="url(#c0)" opacity="0.372"/>
<rect x="263" y="66.5" width="2" height="792" fill="url(#c0)" opacity="0.329"/>
<rect x="265" y="66.5" width="2" height="792" fill="url(#c0)" opacity="0.286"/>
<rect x="267" y="66.5" width="2" height="792" fill="url(#c0)" opacity="0.243"/>
<rect x="269" y="66.5" width="2" height="792" fill="url(#c0)" opacity="0.200"/>
<rect x="271" y="66.5" width="2" height="792" fill="url(#c0)" opacity="0.157"/>
<rect x="273" y="66.5" width="2" height="792" fill="url(#c0)" opacity="0.114"/>
<rect x="275" y="66.5" width="2" height="792" fill="url(#c0)" opacity="0.071"/>
<rect x="277" y="66.5" width="2" height="792" fill="url(#c0)" opacity="0.028"/>
<rect x="279.00" y="66.5" width="47.00" height="792" fill="url(#c2)"/>
<rect x="279" y="66.5" width="2" height="792" fill="url(#c1)" opacity="0.985"/>
<rect x="281" y="66.5" width="2" height="792" fill="url(#c1)" opacity="0.942"/>
<rect x="283" y="66.5" width="2" height="792" fill="url(#c1)" opacity="0.899"/>
<rect x="285" y="66.5" width="2" height="792" fill="url(#c1)" opacity="0.856"/>
<rect x="287" y="66.5" width="2" height="792" fill="url(#c1)" opacity="0.813"/>
<rect x="289" y="66.5" width="2" height="792" fill="url(#c1)" opacity="0.770"/>
<rect x="291" y="66.5" width="2" height="792" fill="url(#c1)" opacity="0.727"/>
<rect x="293" y="66.5" width="2" height="792" fill="url(#c1)" opacity="0.684"/>
<rect x="295" y="66.5" width="2" height="792" fill="url(#c1)" opacity="0.641"/>
<rect x="297" y="66.5" width="2" height="792" fill="url(#c1)" opacity="0.598"/>
<rect x="299" y="66.5" width="2" height="792" fill="url(#c1)" opacity="0.556"/>
<rect x="301" y="66.5" width="2" height="792" fill="url(#c1)" opacity="0.513"/>
<rect x="303" y="66.5" width="2" height="792" fill="url(#c1)" opacity="0.470"/>
<rect x="305" y="66.5" width="2" height="792" fill="url(#c1)" opacity="0.427"/>
<rect x="307" y="66.5" width="2" height="792" fill="url(#c1)" opacity="0.384"/>
<rect x="309" y="66.5" width="2" height="792" fill="url(#c1)" opacity="0.341"/>
<rect x="311" y="66.5" width="2" height="792" fill="url(#c1)" opacity="0.298"/>
<rect x="313" y="66.5" width="2" height="792" fill="url(#c1)" opacity="0.255"/>
<rect x="315" y="66.5" width="2" height="792" fill="url(#c1)" opacity="0.212"/>
<rect x="317" y="66.5" width="2" height="792" fill="url(#c1)" opacity="0.169"/>
<rect x="319" y="66.5" width="2" height="792" fill="url(#c1)" opacity="0.126"/>
<rect x="321" y="66.5" width="2" height="792" fill="url(#c1)" opacity="0.083"/>
<rect x="323" y="66.5" width="2" height="792" fill="url(#c1)" opacity="0.040"/>
<rect x="325" y="66.5" width="1" height="792" fill="url(#c1)" opacity="0.008"/>
<rect x="326.00" y="66.5" width="46.00" height="792" fill="url(#c3)"/>
<rect x="326" y="66.5" width="2" height="792" fill="url(#c2)" opacity="0.975"/>
<rect x="328" y="66.5" width="2" height="792" fill="url(#c2)" opacity="0.932"/>
<rect x="330" y="66.5" width="2" height="792" fill="url(#c2)" opacity="0.889"/>
<rect x="332" y="66.5" width="2" height="792" fill="url(#c2)" opacity="0.846"/>
<rect x="334" y="66.5" width="2" height="792" fill="url(#c2)" opacity="0.803"/>
<rect x="336" y="66.5" width="2" height="792" fill="url(#c2)" opacity="0.761"/>
<rect x="338" y="66.5" width="2" height="792" fill="url(#c2)" opacity="0.718"/>
<rect x="340" y="66.5" width="2" height="792" fill="url(#c2)" opacity="0.675"/>
<rect x="342" y="66.5" width="2" height="792" fill="url(#c2)" opacity="0.632"/>
<rect x="344" y="66.5" width="2" height="792" fill="url(#c2)" opacity="0.589"/>
<rect x="346" y="66.5" width="2" height="792" fill="url(#c2)" opacity="0.546"/>
<rect x="348" y="66.5" width="2" height="792" fill="url(#c2)" opacity="0.503"/>
<rect x="350" y="66.5" width="2" height="792" fill="url(#c2)" opacity="0.460"/>
<rect x="352" y="66.5" width="2" height="792" fill="url(#c2)" opacity="0.417"/>
<rect x="354" y="66.5" width="2" height="792" fill="url(#c2)" opacity="0.374"/>
<rect x="356" y="66.5" width="2" height="792" fill="url(#c2)" opacity="0.331"/>
<rect x="358" y="66.5" width="2" height="792" fill="url(#c2)" opacity="0.288"/>
<rect x="360" y="66.5" width="2" height="792" fill="url(#c2)" opacity="0.245"/>
<rect x="362" y="66.5" width="2" height="792" fill="url(#c2)" opacity="0.202"/>
<rect x="364" y="66.5" width="2" height="792" fill="url(#c2)" opacity="0.159"/>
<rect x="366" y="66.5" width="2" height="792" fill="url(#c2)" opacity="0.116"/>
<rect x="368" y="66.5" width="2" height="792" fill="url(#c2)" opacity="0.073"/>
<rect x="370" y="66.5" width="2" height="792" fill="url(#c2)" opacity="0.030"/>
<rect x="372.00" y="66.5" width="47.00" height="792" fill="url(#c4)"/>
<rect x="372" y="66.5" width="2" height="792" fill="url(#c3)" opacity="0.987"/>
<rect x="374" y="66.5" width="2" height="792" fill="url(#c3)" opacity="0.944"/>
<rect x="376" y="66.5" width="2" height="792" fill="url(#c3)" opacity="0.901"/>
<rect x="378" y="66.5" width="2" height="792" fill="url(#c3)" opacity="0.858"/>
<rect x="380" y="66.5" width="2" height="792" fill="url(#c3)" opacity="0.815"/>
<rect x="382" y="66.5" width="2" height="792" fill="url(#c3)" opacity="0.772"/>
<rect x="384" y="66.5" width="2" height="792" fill="url(#c3)" opacity="0.729"/>
<rect x="386" y="66.5" width="2" height="792" fill="url(#c3)" opacity="0.686"/>
<rect x="388" y="66.5" width="2" height="792" fill="url(#c3)" opacity="0.643"/>
<rect x="390" y="66.5" width="2" height="792" fill="url(#c3)" opacity="0.600"/>
<rect x="392" y="66.5" width="2" height="792" fill="url(#c3)" opacity="0.557"/>
<rect x="394" y="66.5" width="2" height="792" fill="url(#c3)" opacity="0.514"/>
<rect x="396" y="66.5" width="2" height="792" fill="url(#c3)" opacity="0.471"/>
<rect x="398" y="66.5" width="2" height="792" fill="url(#c3)" opacity="0.428"/>
<rect x="400" y="66.5" width="2" height="792" fill="url(#c3)" opacity="0.385"/>
<rect x="402" y="66.5" width="2" height="792" fill="url(#c3)" opacity="0.342"/>
<rect x="404" y="66.5" width="2" height="792" fill="url(#c3)" opacity="0.299"/>
<rect x="406" y="66.5" width="2" height="792" fill="url(#c3)" opacity="0.256"/>
<rect x="408" y="66.5" width="2" height="792" fill="url(#c3)" opacity="0.214"/>
<rect x="410" y="66.5" width="2" height="792" fill="url(#c3)" opacity="0.171"/>
<rect x="412" y="66.5" width="2" height="792" fill="url(#c3)" opacity="0.128"/>
<rect x="414" y="66.5" width="2" height="792" fill="url(#c3)" opacity="0.085"/>
<rect x="416" y="66.5" width="2" height="792" fill="url(#c3)" opacity="0.042"/>
<rect x="418" y="66.5" width="1" height="792" fill="url(#c3)" opacity="0.009"/>
<rect x="419.00" y="66.5" width="46.00" height="792" fill="url(#c5)"/>
<rect x="419" y="66.5" width="2" height="792" fill="url(#c4)" opacity="0.977"/>
<rect x="421" y="66.5" width="2" height="792" fill="url(#c4)" opacity="0.934"/>
<rect x="423" y="66.5" width="2" height="792" fill="url(#c4)" opacity="0.891"/>
<rect x="425" y="66.5" width="2" height="792" fill="url(#c4)" opacity="0.848"/>
<rect x="427" y="66.5" width="2" height="792" fill="url(#c4)" opacity="0.805"/>
<rect x="429" y="66.5" width="2" height="792" fill="url(#c4)" opacity="0.762"/>
<rect x="431" y="66.5" width="2" height="792" fill="url(#c4)" opacity="0.719"/>
<rect x="433" y="66.5" width="2" height="792" fill="url(#c4)" opacity="0.676"/>
<rect x="435" y="66.5" width="2" height="792" fill="url(#c4)" opacity="0.633"/>
<rect x="437" y="66.5" width="2" height="792" fill="url(#c4)" opacity="0.590"/>
<rect x="439" y="66.5" width="2" height="792" fill="url(#c4)" opacity="0.547"/>
<rect x="441" y="66.5" width="2" height="792" fill="url(#c4)" opacity="0.504"/>
<rect x="443" y="66.5" width="2" height="792" fill="url(#c4)" opacity="0.462"/>
<rect x="445" y="66.5" width="2" height="792" fill="url(#c4)" opacity="0.419"/>
<rect x="447" y="66.5" width="2" height="792" fill="url(#c4)" opacity="0.376"/>
<rect x="449" y="66.5" width="2" height="792" fill="url(#c4)" opacity="0.333"/>
<rect x="451" y="66.5" width="2" height="792" fill="url(#c4)" opacity="0.290"/>
<rect x="453" y="66.5" width="2" height="792" fill="url(#c4)" opacity="0.247"/>
<rect x="455" y="66.5" width="2" height="792" fill="url(#c4)" opacity="0.204"/>
<rect x="457" y="66.5" width="2" height="792" fill="url(#c4)" opacity="0.161"/>
<rect x="459" y="66.5" width="2" height="792" fill="url(#c4)" opacity="0.118"/>
<rect x="461" y="66.5" width="2" height="792" fill="url(#c4)" opacity="0.075"/>
<rect x="463" y="66.5" width="2" height="792" fill="url(#c4)" opacity="0.032"/>
<rect x="465.00" y="66.5" width="47.00" height="792" fill="url(#c6)"/>
<rect x="465" y="66.5" width="2" height="792" fill="url(#c5)" opacity="0.989"/>
<rect x="467" y="66.5" width="2" height="792" fill="url(#c5)" opacity="0.946"/>
<rect x="469" y="66.5" width="2" height="792" fill="url(#c5)" opacity="0.903"/>
<rect x="471" y="66.5" width="2" height="792" fill="url(#c5)" opacity="0.860"/>
<rect x="473" y="66.5" width="2" height="792" fill="url(#c5)" opacity="0.817"/>
<rect x="475" y="66.5" width="2" height="792" fill="url(#c5)" opacity="0.774"/>
<rect x="477" y="66.5" width="2" height="792" fill="url(#c5)" opacity="0.731"/>
<rect x="479" y="66.5" width="2" height="792" fill="url(#c5)" opacity="0.688"/>
<rect x="481" y="66.5" width="2" height="792" fill="url(#c5)" opacity="0.645"/>
<rect x="483" y="66.5" width="2" height="792" fill="url(#c5)" opacity="0.602"/>
<rect x="485" y="66.5" width="2" height="792" fill="url(#c5)" opacity="0.559"/>
<rect x="487" y="66.5" width="2" height="792" fill="url(#c5)" opacity="0.516"/>
<rect x="489" y="66.5" width="2" height="792" fill="url(#c5)" opacity="0.473"/>
<rect x="491" y="66.5" width="2" height="792" fill="url(#c5)" opacity="0.430"/>
<rect x="493" y="66.5" width="2" height="792" fill="url(#c5)" opacity="0.387"/>
<rect x="495" y="66.5" width="2" height="792" fill="url(#c5)" opacity="0.344"/>
<rect x="497" y="66.5" width="2" height="792" fill="url(#c5)" opacity="0.301"/>
<rect x="499" y="66.5" width="2" height="792" fill="url(#c5)" opacity="0.258"/>
<rect x="501" y="66.5" width="2" height="792" fill="url(#c5)" opacity="0.215"/>
<rect x="503" y="66.5" width="2" height="792" fill="url(#c5)" opacity="0.172"/>
<rect x="505" y="66.5" width="2" height="792" fill="url(#c5)" opacity="0.129"/>
<rect x="507" y="66.5" width="2" height="792" fill="url(#c5)" opacity="0.086"/>
<rect x="509" y="66.5" width="2" height="792" fill="url(#c5)" opacity="0.043"/>
<rect x="511" y="66.5" width="1" height="792" fill="url(#c5)" opacity="0.011"/>
<rect x="512.00" y="66.5" width="47.00" height="792" fill="url(#c7)"/>
<rect x="512" y="66.5" width="2" height="792" fill="url(#c6)" opacity="0.979"/>
<rect x="514" y="66.5" width="2" height="792" fill="url(#c6)" opacity="0.936"/>
<rect x="516" y="66.5" width="2" height="792" fill="url(#c6)" opacity="0.893"/>
<rect x="518" y="66.5" width="2" height="792" fill="url(#c6)" opacity="0.850"/>
<rect x="520" y="66.5" width="2" height="792" fill="url(#c6)" opacity="0.807"/>
<rect x="522" y="66.5" width="2" height="792" fill="url(#c6)" opacity="0.764"/>
<rect x="524" y="66.5" width="2" height="792" fill="url(#c6)" opacity="0.721"/>
<rect x="526" y="66.5" width="2" height="792" fill="url(#c6)" opacity="0.678"/>
<rect x="528" y="66.5" width="2" height="792" fill="url(#c6)" opacity="0.635"/>
<rect x="530" y="66.5" width="2" height="792" fill="url(#c6)" opacity="0.592"/>
<rect x="532" y="66.5" width="2" height="792" fill="url(#c6)" opacity="0.549"/>
<rect x="534" y="66.5" width="2" height="792" fill="url(#c6)" opacity="0.506"/>
<rect x="536" y="66.5" width="2" height="792" fill="url(#c6)" opacity="0.463"/>
<rect x="538" y="66.5" width="2" height="792" fill="url(#c6)" opacity="0.420"/>
<rect x="540" y="66.5" width="2" height="792" fill="url(#c6)" opacity="0.377"/>
<rect x="542" y="66.5" width="2" height="792" fill="url(#c6)" opacity="0.334"/>
<rect x="544" y="66.5" width="2" height="792" fill="url(#c6)" opacity="0.291"/>
<rect x="546" y="66.5" width="2" height="792" fill="url(#c6)" opacity="0.248"/>
<rect x="548" y="66.5" width="2" height="792" fill="url(#c6)" opacity="0.205"/>
<rect x="550" y="66.5" width="2" height="792" fill="url(#c6)" opacity="0.162"/>
<rect x="552" y="66.5" width="2" height="792" fill="url(#c6)" opacity="0.120"/>
<rect x="554" y="66.5" width="2" height="792" fill="url(#c6)" opacity="0.077"/>
<rect x="556" y="66.5" width="2" height="792" fill="url(#c6)" opacity="0.034"/>
<rect x="559.00" y="66.5" width="46.00" height="792" fill="url(#c8)"/>
<rect x="559" y="66.5" width="2" height="792" fill="url(#c7)" opacity="0.969"/>
<rect x="561" y="66.5" width="2" height="792" fill="url(#c7)" opacity="0.926"/>
<rect x="563" y="66.5" width="2" height="792" fill="url(#c7)" opacity="0.883"/>
<rect x="565" y="66.5" width="2" height="792" fill="url(#c7)" opacity="0.840"/>
<rect x="567" y="66.5" width="2" height="792" fill="url(#c7)" opacity="0.797"/>
<rect x="569" y="66.5" width="2" height="792" fill="url(#c7)" opacity="0.754"/>
<rect x="571" y="66.5" width="2" height="792" fill="url(#c7)" opacity="0.711"/>
<rect x="573" y="66.5" width="2" height="792" fill="url(#c7)" opacity="0.668"/>
<rect x="575" y="66.5" width="2" height="792" fill="url(#c7)" opacity="0.625"/>
<rect x="577" y="66.5" width="2" height="792" fill="url(#c7)" opacity="0.582"/>
<rect x="579" y="66.5" width="2" height="792" fill="url(#c7)" opacity="0.539"/>
<rect x="581" y="66.5" width="2" height="792" fill="url(#c7)" opacity="0.496"/>
<rect x="583" y="66.5" width="2" height="792" fill="url(#c7)" opacity="0.453"/>
<rect x="585" y="66.5" width="2" height="792" fill="url(#c7)" opacity="0.410"/>
<rect x="587" y="66.5" width="2" height="792" fill="url(#c7)" opacity="0.368"/>
<rect x="589" y="66.5" width="2" height="792" fill="url(#c7)" opacity="0.325"/>
<rect x="591" y="66.5" width="2" height="792" fill="url(#c7)" opacity="0.282"/>
<rect x="593" y="66.5" width="2" height="792" fill="url(#c7)" opacity="0.239"/>
<rect x="595" y="66.5" width="2" height="792" fill="url(#c7)" opacity="0.196"/>
<rect x="597" y="66.5" width="2" height="792" fill="url(#c7)" opacity="0.153"/>
<rect x="599" y="66.5" width="2" height="792" fill="url(#c7)" opacity="0.110"/>
<rect x="601" y="66.5" width="2" height="792" fill="url(#c7)" opacity="0.067"/>
<rect x="603" y="66.5" width="2" height="792" fill="url(#c7)" opacity="0.024"/>
<rect x="605.00" y="66.5" width="47.00" height="792" fill="url(#c9)"/>
<rect x="605" y="66.5" width="2" height="792" fill="url(#c8)" opacity="0.981"/>
<rect x="607" y="66.5" width="2" height="792" fill="url(#c8)" opacity="0.938"/>
<rect x="609" y="66.5" width="2" height="792" fill="url(#c8)" opacity="0.895"/>
<rect x="611" y="66.5" width="2" height="792" fill="url(#c8)" opacity="0.852"/>
<rect x="613" y="66.5" width="2" height="792" fill="url(#c8)" opacity="0.809"/>
<rect x="615" y="66.5" width="2" height="792" fill="url(#c8)" opacity="0.766"/>
<rect x="617" y="66.5" width="2" height="792" fill="url(#c8)" opacity="0.723"/>
<rect x="619" y="66.5" width="2" height="792" fill="url(#c8)" opacity="0.680"/>
<rect x="621" y="66.5" width="2" height="792" fill="url(#c8)" opacity="0.637"/>
<rect x="623" y="66.5" width="2" height="792" fill="url(#c8)" opacity="0.594"/>
<rect x="625" y="66.5" width="2" height="792" fill="url(#c8)" opacity="0.551"/>
<rect x="627" y="66.5" width="2" height="792" fill="url(#c8)" opacity="0.508"/>
<rect x="629" y="66.5" width="2" height="792" fill="url(#c8)" opacity="0.465"/>
<rect x="631" y="66.5" width="2" height="792" fill="url(#c8)" opacity="0.422"/>
<rect x="633" y="66.5" width="2" height="792" fill="url(#c8)" opacity="0.379"/>
<rect x="635" y="66.5" width="2" height="792" fill="url(#c8)" opacity="0.336"/>
<rect x="637" y="66.5" width="2" height="792" fill="url(#c8)" opacity="0.293"/>
<rect x="639" y="66.5" width="2" height="792" fill="url(#c8)" opacity="0.250"/>
<rect x="641" y="66.5" width="2" height="792" fill="url(#c8)" opacity="0.207"/>
<rect x="643" y="66.5" width="2" height="792" fill="url(#c8)" opacity="0.164"/>
<rect x="645" y="66.5" width="2" height="792" fill="url(#c8)" opacity="0.121"/>
<rect x="647" y="66.5" width="2" height="792" fill="url(#c8)" opacity="0.078"/>
<rect x="649" y="66.5" width="2" height="792" fill="url(#c8)" opacity="0.035"/>
<rect x="651" y="66.5" width="1" height="792" fill="url(#c8)" opacity="0.003"/>
<rect x="652.00" y="66.5" width="46.00" height="792" fill="url(#c10)"/>
<rect x="652" y="66.5" width="2" height="792" fill="url(#c9)" opacity="0.971"/>
<rect x="654" y="66.5" width="2" height="792" fill="url(#c9)" opacity="0.928"/>
<rect x="656" y="66.5" width="2" height="792" fill="url(#c9)" opacity="0.885"/>
<rect x="658" y="66.5" width="2" height="792" fill="url(#c9)" opacity="0.842"/>
<rect x="660" y="66.5" width="2" height="792" fill="url(#c9)" opacity="0.799"/>
<rect x="662" y="66.5" width="2" height="792" fill="url(#c9)" opacity="0.756"/>
<rect x="664" y="66.5" width="2" height="792" fill="url(#c9)" opacity="0.713"/>
<rect x="666" y="66.5" width="2" height="792" fill="url(#c9)" opacity="0.670"/>
<rect x="668" y="66.5" width="2" height="792" fill="url(#c9)" opacity="0.627"/>
<rect x="670" y="66.5" width="2" height="792" fill="url(#c9)" opacity="0.584"/>
<rect x="672" y="66.5" width="2" height="792" fill="url(#c9)" opacity="0.541"/>
<rect x="674" y="66.5" width="2" height="792" fill="url(#c9)" opacity="0.498"/>
<rect x="676" y="66.5" width="2" height="792" fill="url(#c9)" opacity="0.455"/>
<rect x="678" y="66.5" width="2" height="792" fill="url(#c9)" opacity="0.412"/>
<rect x="680" y="66.5" width="2" height="792" fill="url(#c9)" opacity="0.369"/>
<rect x="682" y="66.5" width="2" height="792" fill="url(#c9)" opacity="0.326"/>
<rect x="684" y="66.5" width="2" height="792" fill="url(#c9)" opacity="0.283"/>
<rect x="686" y="66.5" width="2" height="792" fill="url(#c9)" opacity="0.240"/>
<rect x="688" y="66.5" width="2" height="792" fill="url(#c9)" opacity="0.197"/>
<rect x="690" y="66.5" width="2" height="792" fill="url(#c9)" opacity="0.154"/>
<rect x="692" y="66.5" width="2" height="792" fill="url(#c9)" opacity="0.111"/>
<rect x="694" y="66.5" width="2" height="792" fill="url(#c9)" opacity="0.068"/>
<rect x="696" y="66.5" width="2" height="792" fill="url(#c9)" opacity="0.026"/>
<rect x="698.00" y="66.5" width="47.00" height="792" fill="url(#c11)"/>
<rect x="698" y="66.5" width="2" height="792" fill="url(#c10)" opacity="0.983"/>
<rect x="700" y="66.5" width="2" height="792" fill="url(#c10)" opacity="0.940"/>
<rect x="702" y="66.5" width="2" height="792" fill="url(#c10)" opacity="0.897"/>
<rect x="704" y="66.5" width="2" height="792" fill="url(#c10)" opacity="0.854"/>
<rect x="706" y="66.5" width="2" height="792" fill="url(#c10)" opacity="0.811"/>
<rect x="708" y="66.5" width="2" height="792" fill="url(#c10)" opacity="0.768"/>
<rect x="710" y="66.5" width="2" height="792" fill="url(#c10)" opacity="0.725"/>
<rect x="712" y="66.5" width="2" height="792" fill="url(#c10)" opacity="0.682"/>
<rect x="714" y="66.5" width="2" height="792" fill="url(#c10)" opacity="0.639"/>
<rect x="716" y="66.5" width="2" height="792" fill="url(#c10)" opacity="0.596"/>
<rect x="718" y="66.5" width="2" height="792" fill="url(#c10)" opacity="0.553"/>
<rect x="720" y="66.5" width="2" height="792" fill="url(#c10)" opacity="0.510"/>
<rect x="722" y="66.5" width="2" height="792" fill="url(#c10)" opacity="0.467"/>
<rect x="724" y="66.5" width="2" height="792" fill="url(#c10)" opacity="0.424"/>
<rect x="726" y="66.5" width="2" height="792" fill="url(#c10)" opacity="0.381"/>
<rect x="728" y="66.5" width="2" height="792" fill="url(#c10)" opacity="0.338"/>
<rect x="730" y="66.5" width="2" height="792" fill="url(#c10)" opacity="0.295"/>
<rect x="732" y="66.5" width="2" height="792" fill="url(#c10)" opacity="0.252"/>
<rect x="734" y="66.5" width="2" height="792" fill="url(#c10)" opacity="0.209"/>
<rect x="736" y="66.5" width="2" height="792" fill="url(#c10)" opacity="0.166"/>
<rect x="738" y="66.5" width="2" height="792" fill="url(#c10)" opacity="0.123"/>
<rect x="740" y="66.5" width="2" height="792" fill="url(#c10)" opacity="0.080"/>
<rect x="742" y="66.5" width="2" height="792" fill="url(#c10)" opacity="0.037"/>
<rect x="744" y="66.5" width="1" height="792" fill="url(#c10)" opacity="0.005"/>
<rect x="745.00" y="66.5" width="46.00" height="792" fill="url(#c12)"/>
<rect x="745" y="66.5" width="2" height="792" fill="url(#c11)" opacity="0.973"/>
<rect x="747" y="66.5" width="2" height="792" fill="url(#c11)" opacity="0.930"/>
<rect x="749" y="66.5" width="2" height="792" fill="url(#c11)" opacity="0.887"/>
<rect x="751" y="66.5" width="2" height="792" fill="url(#c11)" opacity="0.844"/>
<rect x="753" y="66.5" width="2" height="792" fill="url(#c11)" opacity="0.801"/>
<rect x="755" y="66.5" width="2" height="792" fill="url(#c11)" opacity="0.758"/>
<rect x="757" y="66.5" width="2" height="792" fill="url(#c11)" opacity="0.715"/>
<rect x="759" y="66.5" width="2" height="792" fill="url(#c11)" opacity="0.672"/>
<rect x="761" y="66.5" width="2" height="792" fill="url(#c11)" opacity="0.629"/>
<rect x="763" y="66.5" width="2" height="792" fill="url(#c11)" opacity="0.586"/>
<rect x="765" y="66.5" width="2" height="792" fill="url(#c11)" opacity="0.543"/>
<rect x="767" y="66.5" width="2" height="792" fill="url(#c11)" opacity="0.500"/>
<rect x="769" y="66.5" width="2" height="792" fill="url(#c11)" opacity="0.457"/>
<rect x="771" y="66.5" width="2" height="792" fill="url(#c11)" opacity="0.414"/>
<rect x="773" y="66.5" width="2" height="792" fill="url(#c11)" opacity="0.371"/>
<rect x="775" y="66.5" width="2" height="792" fill="url(#c11)" opacity="0.328"/>
<rect x="777" y="66.5" width="2" height="792" fill="url(#c11)" opacity="0.285"/>
<rect x="779" y="66.5" width="2" height="792" fill="url(#c11)" opacity="0.242"/>
<rect x="781" y="66.5" width="2" height="792" fill="url(#c11)" opacity="0.199"/>
<rect x="783" y="66.5" width="2" height="792" fill="url(#c11)" opacity="0.156"/>
<rect x="785" y="66.5" width="2" height="792" fill="url(#c11)" opacity="0.113"/>
<rect x="787" y="66.5" width="2" height="792" fill="url(#c11)" opacity="0.070"/>
<rect x="789" y="66.5" width="2" height="792" fill="url(#c11)" opacity="0.027"/>
<rect x="791.00" y="66.5" width="47.00" height="792" fill="url(#c13)"/>
<rect x="791" y="66.5" width="2" height="792" fill="url(#c12)" opacity="0.984"/>
<rect x="793" y="66.5" width="2" height="792" fill="url(#c12)" opacity="0.941"/>
<rect x="795" y="66.5" width="2" height="792" fill="url(#c12)" opacity="0.898"/>
<rect x="797" y="66.5" width="2" height="792" fill="url(#c12)" opacity="0.855"/>
<rect x="799" y="66.5" width="2" height="792" fill="url(#c12)" opacity="0.812"/>
<rect x="801" y="66.5" width="2" height="792" fill="url(#c12)" opacity="0.769"/>
<rect x="803" y="66.5" width="2" height="792" fill="url(#c12)" opacity="0.726"/>
<rect x="805" y="66.5" width="2" height="792" fill="url(#c12)" opacity="0.684"/>
<rect x="807" y="66.5" width="2" height="792" fill="url(#c12)" opacity="0.641"/>
<rect x="809" y="66.5" width="2" height="792" fill="url(#c12)" opacity="0.598"/>
<rect x="811" y="66.5" width="2" height="792" fill="url(#c12)" opacity="0.555"/>
<rect x="813" y="66.5" width="2" height="792" fill="url(#c12)" opacity="0.512"/>
<rect x="815" y="66.5" width="2" height="792" fill="url(#c12)" opacity="0.469"/>
<rect x="817" y="66.5" width="2" height="792" fill="url(#c12)" opacity="0.426"/>
<rect x="819" y="66.5" width="2" height="792" fill="url(#c12)" opacity="0.383"/>
<rect x="821" y="66.5" width="2" height="792" fill="url(#c12)" opacity="0.340"/>
<rect x="823" y="66.5" width="2" height="792" fill="url(#c12)" opacity="0.297"/>
<rect x="825" y="66.5" width="2" height="792" fill="url(#c12)" opacity="0.254"/>
<rect x="827" y="66.5" width="2" height="792" fill="url(#c12)" opacity="0.211"/>
<rect x="829" y="66.5" width="2" height="792" fill="url(#c12)" opacity="0.168"/>
<rect x="831" y="66.5" width="2" height="792" fill="url(#c12)" opacity="0.125"/>
<rect x="833" y="66.5" width="2" height="792" fill="url(#c12)" opacity="0.082"/>
<rect x="835" y="66.5" width="2" height="792" fill="url(#c12)" opacity="0.039"/>
<rect x="837" y="66.5" width="1" height="792" fill="url(#c12)" opacity="0.007"/>
<rect x="838.00" y="66.5" width="46.00" height="792" fill="url(#c14)"/>
<rect x="838" y="66.5" width="2" height="792" fill="url(#c13)" opacity="0.974"/>
<rect x="840" y="66.5" width="2" height="792" fill="url(#c13)" opacity="0.932"/>
<rect x="842" y="66.5" width="2" height="792" fill="url(#c13)" opacity="0.889"/>
<rect x="844" y="66.5" width="2" height="792" fill="url(#c13)" opacity="0.846"/>
<rect x="846" y="66.5" width="2" height="792" fill="url(#c13)" opacity="0.803"/>
<rect x="848" y="66.5" width="2" height="792" fill="url(#c13)" opacity="0.760"/>
<rect x="850" y="66.5" width="2" height="792" fill="url(#c13)" opacity="0.717"/>
<rect x="852" y="66.5" width="2" height="792" fill="url(#c13)" opacity="0.674"/>
<rect x="854" y="66.5" width="2" height="792" fill="url(#c13)" opacity="0.631"/>
<rect x="856" y="66.5" width="2" height="792" fill="url(#c13)" opacity="0.588"/>
<rect x="858" y="66.5" width="2" height="792" fill="url(#c13)" opacity="0.545"/>
<rect x="860" y="66.5" width="2" height="792" fill="url(#c13)" opacity="0.502"/>
<rect x="862" y="66.5" width="2" height="792" fill="url(#c13)" opacity="0.459"/>
<rect x="864" y="66.5" width="2" height="792" fill="url(#c13)" opacity="0.416"/>
<rect x="866" y="66.5" width="2" height="792" fill="url(#c13)" opacity="0.373"/>
<rect x="868" y="66.5" width="2" height="792" fill="url(#c13)" opacity="0.330"/>
<rect x="870" y="66.5" width="2" height="792" fill="url(#c13)" opacity="0.287"/>
<rect x="872" y="66.5" width="2" height="792" fill="url(#c13)" opacity="0.244"/>
<rect x="874" y="66.5" width="2" height="792" fill="url(#c13)" opacity="0.201"/>
<rect x="876" y="66.5" width="2" height="792" fill="url(#c13)" opacity="0.158"/>
<rect x="878" y="66.5" width="2" height="792" fill="url(#c13)" opacity="0.115"/>
<rect x="880" y="66.5" width="2" height="792" fill="url(#c13)" opacity="0.072"/>
<rect x="882" y="66.5" width="2" height="792" fill="url(#c13)" opacity="0.029"/>
<rect x="884.00" y="66.5" width="47.00" height="792" fill="url(#c15)"/>
<rect x="884" y="66.5" width="2" height="792" fill="url(#c14)" opacity="0.986"/>
<rect x="886" y="66.5" width="2" height="792" fill="url(#c14)" opacity="0.943"/>
<rect x="888" y="66.5" width="2" height="792" fill="url(#c14)" opacity="0.900"/>
<rect x="890" y="66.5" width="2" height="792" fill="url(#c14)" opacity="0.857"/>
<rect x="892" y="66.5" width="2" height="792" fill="url(#c14)" opacity="0.814"/>
<rect x="894" y="66.5" width="2" height="792" fill="url(#c14)" opacity="0.771"/>
<rect x="896" y="66.5" width="2" height="792" fill="url(#c14)" opacity="0.728"/>
<rect x="898" y="66.5" width="2" height="792" fill="url(#c14)" opacity="0.685"/>
<rect x="900" y="66.5" width="2" height="792" fill="url(#c14)" opacity="0.642"/>
<rect x="902" y="66.5" width="2" height="792" fill="url(#c14)" opacity="0.599"/>
<rect x="904" y="66.5" width="2" height="792" fill="url(#c14)" opacity="0.556"/>
<rect x="906" y="66.5" width="2" height="792" fill="url(#c14)" opacity="0.513"/>
<rect x="908" y="66.5" width="2" height="792" fill="url(#c14)" opacity="0.470"/>
<rect x="910" y="66.5" width="2" height="792" fill="url(#c14)" opacity="0.427"/>
<rect x="912" y="66.5" width="2" height="792" fill="url(#c14)" opacity="0.385"/>
<rect x="914" y="66.5" width="2" height="792" fill="url(#c14)" opacity="0.342"/>
<rect x="916" y="66.5" width="2" height="792" fill="url(#c14)" opacity="0.299"/>
<rect x="918" y="66.5" width="2" height="792" fill="url(#c14)" opacity="0.256"/>
<rect x="920" y="66.5" width="2" height="792" fill="url(#c14)" opacity="0.213"/>
<rect x="922" y="66.5" width="2" height="792" fill="url(#c14)" opacity="0.170"/>
<rect x="924" y="66.5" width="2" height="792" fill="url(#c14)" opacity="0.127"/>
<rect x="926" y="66.5" width="2" height="792" fill="url(#c14)" opacity="0.084"/>
<rect x="928" y="66.5" width="2" height="792" fill="url(#c14)" opacity="0.041"/>
<rect x="930" y="66.5" width="1" height="792" fill="url(#c14)" opacity="0.009"/>
<rect x="931.00" y="66.5" width="46.00" height="792" fill="url(#c16)"/>
<rect x="931" y="66.5" width="2" height="792" fill="url(#c15)" opacity="0.976"/>
<rect x="933" y="66.5" width="2" height="792" fill="url(#c15)" opacity="0.933"/>
<rect x="935" y="66.5" width="2" height="792" fill="url(#c15)" opacity="0.890"/>
<rect x="937" y="66.5" width="2" height="792" fill="url(#c15)" opacity="0.847"/>
<rect x="939" y="66.5" width="2" height="792" fill="url(#c15)" opacity="0.804"/>
<rect x="941" y="66.5" width="2" height="792" fill="url(#c15)" opacity="0.761"/>
<rect x="943" y="66.5" width="2" height="792" fill="url(#c15)" opacity="0.718"/>
<rect x="945" y="66.5" width="2" height="792" fill="url(#c15)" opacity="0.675"/>
<rect x="947" y="66.5" width="2" height="792" fill="url(#c15)" opacity="0.632"/>
<rect x="949" y="66.5" width="2" height="792" fill="url(#c15)" opacity="0.590"/>
<rect x="951" y="66.5" width="2" height="792" fill="url(#c15)" opacity="0.547"/>
<rect x="953" y="66.5" width="2" height="792" fill="url(#c15)" opacity="0.504"/>
<rect x="955" y="66.5" width="2" height="792" fill="url(#c15)" opacity="0.461"/>
<rect x="957" y="66.5" width="2" height="792" fill="url(#c15)" opacity="0.418"/>
<rect x="959" y="66.5" width="2" height="792" fill="url(#c15)" opacity="0.375"/>
<rect x="961" y="66.5" width="2" height="792" fill="url(#c15)" opacity="0.332"/>
<rect x="963" y="66.5" width="2" height="792" fill="url(#c15)" opacity="0.289"/>
<rect x="965" y="66.5" width="2" height="792" fill="url(#c15)" opacity="0.246"/>
<rect x="967" y="66.5" width="2" height="792" fill="url(#c15)" opacity="0.203"/>
<rect x="969" y="66.5" width="2" height="792" fill="url(#c15)" opacity="0.160"/>
<rect x="971" y="66.5" width="2" height="792" fill="url(#c15)" opacity="0.117"/>
<rect x="973" y="66.5" width="2" height="792" fill="url(#c15)" opacity="0.074"/>
<rect x="975" y="66.5" width="2" height="792" fill="url(#c15)" opacity="0.031"/>
<rect x="977.00" y="66.5" width="47.00" height="792" fill="url(#c17)"/>
<rect x="977" y="66.5" width="2" height="792" fill="url(#c16)" opacity="0.988"/>
<rect x="979" y="66.5" width="2" height="792" fill="url(#c16)" opacity="0.945"/>
<rect x="981" y="66.5" width="2" height="792" fill="url(#c16)" opacity="0.902"/>
<rect x="983" y="66.5" width="2" height="792" fill="url(#c16)" opacity="0.859"/>
<rect x="985" y="66.5" width="2" height="792" fill="url(#c16)" opacity="0.816"/>
<rect x="987" y="66.5" width="2" height="792" fill="url(#c16)" opacity="0.773"/>
<rect x="989" y="66.5" width="2" height="792" fill="url(#c16)" opacity="0.730"/>
<rect x="991" y="66.5" width="2" height="792" fill="url(#c16)" opacity="0.687"/>
<rect x="993" y="66.5" width="2" height="792" fill="url(#c16)" opacity="0.644"/>
<rect x="995" y="66.5" width="2" height="792" fill="url(#c16)" opacity="0.601"/>
<rect x="997" y="66.5" width="2" height="792" fill="url(#c16)" opacity="0.558"/>
<rect x="999" y="66.5" width="2" height="792" fill="url(#c16)" opacity="0.515"/>
<rect x="1001" y="66.5" width="2" height="792" fill="url(#c16)" opacity="0.472"/>
<rect x="1003" y="66.5" width="2" height="792" fill="url(#c16)" opacity="0.429"/>
<rect x="1005" y="66.5" width="2" height="792" fill="url(#c16)" opacity="0.386"/>
<rect x="1007" y="66.5" width="2" height="792" fill="url(#c16)" opacity="0.343"/>
<rect x="1009" y="66.5" width="2" height="792" fill="url(#c16)" opacity="0.300"/>
<rect x="1011" y="66.5" width="2" height="792" fill="url(#c16)" opacity="0.257"/>
<rect x="1013" y="66.5" width="2" height="792" fill="url(#c16)" opacity="0.214"/>
<rect x="1015" y="66.5" width="2" height="792" fill="url(#c16)" opacity="0.171"/>
<rect x="1017" y="66.5" width="2" height="792" fill="url(#c16)" opacity="0.128"/>
<rect x="1019" y="66.5" width="2" height="792" fill="url(#c16)" opacity="0.085"/>
<rect x="1021" y="66.5" width="2" height="792" fill="url(#c16)" opacity="0.043"/>
<rect x="1023" y="66.5" width="1" height="792" fill="url(#c16)" opacity="0.010"/>
<rect x="1024.00" y="66.5" width="47.00" height="792" fill="url(#c18)"/>
<rect x="1024" y="66.5" width="2" height="792" fill="url(#c17)" opacity="0.978"/>
<rect x="1026" y="66.5" width="2" height="792" fill="url(#c17)" opacity="0.935"/>
<rect x="1028" y="66.5" width="2" height="792" fill="url(#c17)" opacity="0.892"/>
<rect x="1030" y="66.5" width="2" height="792" fill="url(#c17)" opacity="0.849"/>
<rect x="1032" y="66.5" width="2" height="792" fill="url(#c17)" opacity="0.806"/>
<rect x="1034" y="66.5" width="2" height="792" fill="url(#c17)" opacity="0.763"/>
<rect x="1036" y="66.5" width="2" height="792" fill="url(#c17)" opacity="0.720"/>
<rect x="1038" y="66.5" width="2" height="792" fill="url(#c17)" opacity="0.677"/>
<rect x="1040" y="66.5" width="2" height="792" fill="url(#c17)" opacity="0.634"/>
<rect x="1042" y="66.5" width="2" height="792" fill="url(#c17)" opacity="0.591"/>
<rect x="1044" y="66.5" width="2" height="792" fill="url(#c17)" opacity="0.548"/>
<rect x="1046" y="66.5" width="2" height="792" fill="url(#c17)" opacity="0.505"/>
<rect x="1048" y="66.5" width="2" height="792" fill="url(#c17)" opacity="0.462"/>
<rect x="1050" y="66.5" width="2" height="792" fill="url(#c17)" opacity="0.419"/>
<rect x="1052" y="66.5" width="2" height="792" fill="url(#c17)" opacity="0.376"/>
<rect x="1054" y="66.5" width="2" height="792" fill="url(#c17)" opacity="0.333"/>
<rect x="1056" y="66.5" width="2" height="792" fill="url(#c17)" opacity="0.291"/>
<rect x="1058" y="66.5" width="2" height="792" fill="url(#c17)" opacity="0.248"/>
<rect x="1060" y="66.5" width="2" height="792" fill="url(#c17)" opacity="0.205"/>
<rect x="1062" y="66.5" width="2" height="792" fill="url(#c17)" opacity="0.162"/>
<rect x="1064" y="66.5" width="2" height="792" fill="url(#c17)" opacity="0.119"/>
<rect x="1066" y="66.5" width="2" height="792" fill="url(#c17)" opacity="0.076"/>
<rect x="1068" y="66.5" width="2" height="792" fill="url(#c17)" opacity="0.033"/>
<rect x="1071.00" y="66.5" width="46.00" height="792" fill="url(#c19)"/>
<rect x="1071" y="66.5" width="2" height="792" fill="url(#c18)" opacity="0.968"/>
<rect x="1073" y="66.5" width="2" height="792" fill="url(#c18)" opacity="0.925"/>
<rect x="1075" y="66.5" width="2" height="792" fill="url(#c18)" opacity="0.882"/>
<rect x="1077" y="66.5" width="2" height="792" fill="url(#c18)" opacity="0.839"/>
<rect x="1079" y="66.5" width="2" height="792" fill="url(#c18)" opacity="0.796"/>
<rect x="1081" y="66.5" width="2" height="792" fill="url(#c18)" opacity="0.753"/>
<rect x="1083" y="66.5" width="2" height="792" fill="url(#c18)" opacity="0.710"/>
<rect x="1085" y="66.5" width="2" height="792" fill="url(#c18)" opacity="0.667"/>
<rect x="1087" y="66.5" width="2" height="792" fill="url(#c18)" opacity="0.624"/>
<rect x="1089" y="66.5" width="2" height="792" fill="url(#c18)" opacity="0.581"/>
<rect x="1091" y="66.5" width="2" height="792" fill="url(#c18)" opacity="0.538"/>
<rect x="1093" y="66.5" width="2" height="792" fill="url(#c18)" opacity="0.496"/>
<rect x="1095" y="66.5" width="2" height="792" fill="url(#c18)" opacity="0.453"/>
<rect x="1097" y="66.5" width="2" height="792" fill="url(#c18)" opacity="0.410"/>
<rect x="1099" y="66.5" width="2" height="792" fill="url(#c18)" opacity="0.367"/>
<rect x="1101" y="66.5" width="2" height="792" fill="url(#c18)" opacity="0.324"/>
<rect x="1103" y="66.5" width="2" height="792" fill="url(#c18)" opacity="0.281"/>
<rect x="1105" y="66.5" width="2" height="792" fill="url(#c18)" opacity="0.238"/>
<rect x="1107" y="66.5" width="2" height="792" fill="url(#c18)" opacity="0.195"/>
<rect x="1109" y="66.5" width="2" height="792" fill="url(#c18)" opacity="0.152"/>
<rect x="1111" y="66.5" width="2" height="792" fill="url(#c18)" opacity="0.109"/>
<rect x="1113" y="66.5" width="2" height="792" fill="url(#c18)" opacity="0.066"/>
<rect x="1115" y="66.5" width="2" height="792" fill="url(#c18)" opacity="0.023"/>
<rect x="1117.00" y="66.5" width="47.00" height="792" fill="url(#c20)"/>
<rect x="1117" y="66.5" width="2" height="792" fill="url(#c19)" opacity="0.980"/>
<rect x="1119" y="66.5" width="2" height="792" fill="url(#c19)" opacity="0.937"/>
<rect x="1121" y="66.5" width="2" height="792" fill="url(#c19)" opacity="0.894"/>
<rect x="1123" y="66.5" width="2" height="792" fill="url(#c19)" opacity="0.851"/>
<rect x="1125" y="66.5" width="2" height="792" fill="url(#c19)" opacity="0.808"/>
<rect x="1127" y="66.5" width="2" height="792" fill="url(#c19)" opacity="0.765"/>
<rect x="1129" y="66.5" width="2" height="792" fill="url(#c19)" opacity="0.722"/>
<rect x="1131" y="66.5" width="2" height="792" fill="url(#c19)" opacity="0.679"/>
<rect x="1133" y="66.5" width="2" height="792" fill="url(#c19)" opacity="0.636"/>
<rect x="1135" y="66.5" width="2" height="792" fill="url(#c19)" opacity="0.593"/>
<rect x="1137" y="66.5" width="2" height="792" fill="url(#c19)" opacity="0.550"/>
<rect x="1139" y="66.5" width="2" height="792" fill="url(#c19)" opacity="0.507"/>
<rect x="1141" y="66.5" width="2" height="792" fill="url(#c19)" opacity="0.464"/>
<rect x="1143" y="66.5" width="2" height="792" fill="url(#c19)" opacity="0.421"/>
<rect x="1145" y="66.5" width="2" height="792" fill="url(#c19)" opacity="0.378"/>
<rect x="1147" y="66.5" width="2" height="792" fill="url(#c19)" opacity="0.335"/>
<rect x="1149" y="66.5" width="2" height="792" fill="url(#c19)" opacity="0.292"/>
<rect x="1151" y="66.5" width="2" height="792" fill="url(#c19)" opacity="0.249"/>
<rect x="1153" y="66.5" width="2" height="792" fill="url(#c19)" opacity="0.206"/>
<rect x="1155" y="66.5" width="2" height="792" fill="url(#c19)" opacity="0.163"/>
<rect x="1157" y="66.5" width="2" height="792" fill="url(#c19)" opacity="0.120"/>
<rect x="1159" y="66.5" width="2" height="792" fill="url(#c19)" opacity="0.077"/>
<rect x="1161" y="66.5" width="2" height="792" fill="url(#c19)" opacity="0.034"/>
<rect x="1163" y="66.5" width="1" height="792" fill="url(#c19)" opacity="0.002"/>
<rect x="1164.00" y="66.5" width="46.00" height="792" fill="url(#c21)"/>
<rect x="1164" y="66.5" width="2" height="792" fill="url(#c20)" opacity="0.970"/>
<rect x="1166" y="66.5" width="2" height="792" fill="url(#c20)" opacity="0.927"/>
<rect x="1168" y="66.5" width="2" height="792" fill="url(#c20)" opacity="0.884"/>
<rect x="1170" y="66.5" width="2" height="792" fill="url(#c20)" opacity="0.841"/>
<rect x="1172" y="66.5" width="2" height="792" fill="url(#c20)" opacity="0.798"/>
<rect x="1174" y="66.5" width="2" height="792" fill="url(#c20)" opacity="0.755"/>
<rect x="1176" y="66.5" width="2" height="792" fill="url(#c20)" opacity="0.712"/>
<rect x="1178" y="66.5" width="2" height="792" fill="url(#c20)" opacity="0.669"/>
<rect x="1180" y="66.5" width="2" height="792" fill="url(#c20)" opacity="0.626"/>
<rect x="1182" y="66.5" width="2" height="792" fill="url(#c20)" opacity="0.583"/>
<rect x="1184" y="66.5" width="2" height="792" fill="url(#c20)" opacity="0.540"/>
<rect x="1186" y="66.5" width="2" height="792" fill="url(#c20)" opacity="0.497"/>
<rect x="1188" y="66.5" width="2" height="792" fill="url(#c20)" opacity="0.454"/>
<rect x="1190" y="66.5" width="2" height="792" fill="url(#c20)" opacity="0.411"/>
<rect x="1192" y="66.5" width="2" height="792" fill="url(#c20)" opacity="0.368"/>
<rect x="1194" y="66.5" width="2" height="792" fill="url(#c20)" opacity="0.325"/>
<rect x="1196" y="66.5" width="2" height="792" fill="url(#c20)" opacity="0.282"/>
<rect x="1198" y="66.5" width="2" height="792" fill="url(#c20)" opacity="0.239"/>
<rect x="1200" y="66.5" width="2" height="792" fill="url(#c20)" opacity="0.197"/>
<rect x="1202" y="66.5" width="2" height="792" fill="url(#c20)" opacity="0.154"/>
<rect x="1204" y="66.5" width="2" height="792" fill="url(#c20)" opacity="0.111"/>
<rect x="1206" y="66.5" width="2" height="792" fill="url(#c20)" opacity="0.068"/>
<rect x="1208" y="66.5" width="2" height="792" fill="url(#c20)" opacity="0.025"/>
<rect x="1210.00" y="66.5" width="47.00" height="792" fill="url(#c22)"/>
<rect x="1210" y="66.5" width="2" height="792" fill="url(#c21)" opacity="0.982"/>
<rect x="1212" y="66.5" width="2" height="792" fill="url(#c21)" opacity="0.939"/>
<rect x="1214" y="66.5" width="2" height="792" fill="url(#c21)" opacity="0.896"/>
<rect x="1216" y="66.5" width="2" height="792" fill="url(#c21)" opacity="0.853"/>
<rect x="1218" y="66.5" width="2" height="792" fill="url(#c21)" opacity="0.810"/>
<rect x="1220" y="66.5" width="2" height="792" fill="url(#c21)" opacity="0.767"/>
<rect x="1222" y="66.5" width="2" height="792" fill="url(#c21)" opacity="0.724"/>
<rect x="1224" y="66.5" width="2" height="792" fill="url(#c21)" opacity="0.681"/>
<rect x="1226" y="66.5" width="2" height="792" fill="url(#c21)" opacity="0.638"/>
<rect x="1228" y="66.5" width="2" height="792" fill="url(#c21)" opacity="0.595"/>
<rect x="1230" y="66.5" width="2" height="792" fill="url(#c21)" opacity="0.552"/>
<rect x="1232" y="66.5" width="2" height="792" fill="url(#c21)" opacity="0.509"/>
<rect x="1234" y="66.5" width="2" height="792" fill="url(#c21)" opacity="0.466"/>
<rect x="1236" y="66.5" width="2" height="792" fill="url(#c21)" opacity="0.423"/>
<rect x="1238" y="66.5" width="2" height="792" fill="url(#c21)" opacity="0.380"/>
<rect x="1240" y="66.5" width="2" height="792" fill="url(#c21)" opacity="0.337"/>
<rect x="1242" y="66.5" width="2" height="792" fill="url(#c21)" opacity="0.294"/>
<rect x="1244" y="66.5" width="2" height="792" fill="url(#c21)" opacity="0.251"/>
<rect x="1246" y="66.5" width="2" height="792" fill="url(#c21)" opacity="0.208"/>
<rect x="1248" y="66.5" width="2" height="792" fill="url(#c21)" opacity="0.165"/>
<rect x="1250" y="66.5" width="2" height="792" fill="url(#c21)" opacity="0.122"/>
<rect x="1252" y="66.5" width="2" height="792" fill="url(#c21)" opacity="0.079"/>
<rect x="1254" y="66.5" width="2" height="792" fill="url(#c21)" opacity="0.036"/>
<rect x="1256" y="66.5" width="1" height="792" fill="url(#c21)" opacity="0.004"/>
<rect x="1257.00" y="66.5" width="46.00" height="792" fill="url(#c23)"/>
<rect x="1257" y="66.5" width="2" height="792" fill="url(#c22)" opacity="0.972"/>
<rect x="1259" y="66.5" width="2" height="792" fill="url(#c22)" opacity="0.929"/>
<rect x="1261" y="66.5" width="2" height="792" fill="url(#c22)" opacity="0.886"/>
<rect x="1263" y="66.5" width="2" height="792" fill="url(#c22)" opacity="0.843"/>
<rect x="1265" y="66.5" width="2" height="792" fill="url(#c22)" opacity="0.800"/>
<rect x="1267" y="66.5" width="2" height="792" fill="url(#c22)" opacity="0.757"/>
<rect x="1269" y="66.5" width="2" height="792" fill="url(#c22)" opacity="0.714"/>
<rect x="1271" y="66.5" width="2" height="792" fill="url(#c22)" opacity="0.671"/>
<rect x="1273" y="66.5" width="2" height="792" fill="url(#c22)" opacity="0.628"/>
<rect x="1275" y="66.5" width="2" height="792" fill="url(#c22)" opacity="0.585"/>
<rect x="1277" y="66.5" width="2" height="792" fill="url(#c22)" opacity="0.542"/>
<rect x="1279" y="66.5" width="2" height="792" fill="url(#c22)" opacity="0.499"/>
<rect x="1281" y="66.5" width="2" height="792" fill="url(#c22)" opacity="0.456"/>
<rect x="1283" y="66.5" width="2" height="792" fill="url(#c22)" opacity="0.413"/>
<rect x="1285" y="66.5" width="2" height="792" fill="url(#c22)" opacity="0.370"/>
<rect x="1287" y="66.5" width="2" height="792" fill="url(#c22)" opacity="0.327"/>
<rect x="1289" y="66.5" width="2" height="792" fill="url(#c22)" opacity="0.284"/>
<rect x="1291" y="66.5" width="2" height="792" fill="url(#c22)" opacity="0.241"/>
<rect x="1293" y="66.5" width="2" height="792" fill="url(#c22)" opacity="0.198"/>
<rect x="1295" y="66.5" width="2" height="792" fill="url(#c22)" opacity="0.155"/>
<rect x="1297" y="66.5" width="2" height="792" fill="url(#c22)" opacity="0.112"/>
<rect x="1299" y="66.5" width="2" height="792" fill="url(#c22)" opacity="0.069"/>
<rect x="1301" y="66.5" width="2" height="792" fill="url(#c22)" opacity="0.026"/>
</g>
<g clip-path="url(#plotclip)" fill="none" stroke="#000080" stroke-linejoin="miter" shape-rendering="crispEdges">
<line x1="209" y1="426.5" x2="1327" y2="426.5" stroke="#000" stroke-width="1"/>
<polyline points="232.8,982.3 279.3,786.1 325.9,1039.9 372.4,1074.5 418.9,911.8 465.5,846.0 512.0,872.9 558.6,944.9 605.1,782.5 651.6,721.0 698.2,760.3 744.7,759.7 791.3,740.0 837.8,781.7 884.4,851.7 930.9,963.6 977.4,1002.5 1024.0,898.8 1070.5,838.3 1117.1,839.3 1163.6,957.9 1210.1,840.9 1256.7,797.2 1303.2,988.1" stroke-width="1" stroke-dasharray="2.5 4.2"/>
<polyline points="232.8,-5.5 279.3,-5.5 325.9,-5.5 372.4,-5.5 418.9,-5.5 465.5,8.9 512.0,65.1 558.6,88.0 605.1,87.8 651.6,46.3 698.2,23.3 744.7,23.3 791.3,63.2 837.8,69.8 884.4,60.6 930.9,-5.5 977.4,-61.7 1024.0,98.5 1070.5,38.1 1117.1,66.5 1163.6,-5.5 1210.1,-5.5 1256.7,-5.5 1303.2,-5.5" stroke-width="1" stroke-dasharray="2.5 4.2"/>
<polyline points="232.8,571.9 279.3,563.0 325.9,581.9 372.4,583.3 418.9,600.6 465.5,628.8 512.0,631.8 558.6,619.7 605.1,616.4 651.6,607.4 698.2,605.1 744.7,600.3 791.3,602.2 837.8,618.7 884.4,640.5 930.9,656.6 977.4,675.8 1024.0,698.2 1070.5,696.6 1117.1,677.2 1163.6,631.0 1210.1,590.9 1256.7,574.0 1303.2,569.1" stroke-width="1" stroke-dasharray="2.5 4.2"/>
<polyline points="232.8,99.8 279.3,95.7 325.9,127.0 372.4,175.5 418.9,221.9 465.5,226.1 512.0,237.4 558.6,254.4 605.1,264.9 651.6,253.3 698.2,254.4 744.7,247.4 791.3,242.6 837.8,253.0 884.4,255.9 930.9,254.4 977.4,253.8 1024.0,253.8 1070.5,276.5 1117.1,273.4 1163.6,245.9 1210.1,192.2 1256.7,154.1 1303.2,124.4" stroke-width="1" stroke-dasharray="2.5 4.2"/>
<polyline points="232.8,489.4 279.3,492.3 325.9,499.9 372.4,512.8 418.9,522.1 465.5,534.8 512.0,537.1 558.6,534.4 605.1,533.8 651.6,535.2 698.2,536.5 744.7,539.3 791.3,541.4 837.8,547.9 884.4,566.2 930.9,588.8 977.4,606.5 1024.0,619.2 1070.5,616.7 1117.1,580.6 1163.6,540.3 1210.1,523.0 1256.7,501.8 1303.2,493.3" stroke-width="2" stroke-dasharray="10 8.5"/>
<polyline points="232.8,186.0 279.3,192.6 325.9,220.9 372.4,263.8 418.9,298.3 465.5,315.9 512.0,329.3 558.6,334.9 605.1,336.5 651.6,335.1 698.2,334.2 744.7,333.6 791.3,330.3 837.8,332.3 884.4,335.1 930.9,341.5 977.4,354.8 1024.0,363.3 1070.5,362.9 1117.1,345.0 1163.6,312.7 1210.1,265.2 1256.7,230.7 1303.2,203.6" stroke-width="2" stroke-dasharray="10 8.5"/>
<polyline points="232.8,426.5 279.3,428.2 325.9,434.9 372.4,441.6 418.9,450.3 465.5,456.7 512.0,459.5 558.6,462.6 605.1,464.5 651.6,466.2 698.2,467.8 744.7,468.7 791.3,469.8 837.8,473.6 884.4,484.8 930.9,505.7 977.4,515.9 1024.0,524.4 1070.5,516.5 1117.1,494.8 1163.6,472.1 1210.1,456.0 1256.7,439.6 1303.2,428.4" stroke-width="3" stroke-dasharray="10 8.5"/>
<polyline points="232.8,302.5 279.3,316.3 325.9,341.3 372.4,362.7 418.9,380.3 465.5,391.9 512.0,397.0 558.6,401.7 605.1,403.5 651.6,404.9 698.2,406.2 744.7,406.2 791.3,405.2 837.8,407.2 884.4,414.1 930.9,423.8 977.4,434.0 1024.0,440.2 1070.5,437.2 1117.1,417.0 1163.6,391.5 1210.1,365.6 1256.7,337.2 1303.2,313.2" stroke-width="3" stroke-dasharray="10 8.5"/>
<polyline points="232.8,375.8 279.3,385.9 325.9,397.0 372.4,409.1 418.9,419.3 465.5,425.8 512.0,430.8 558.6,433.4 605.1,435.6 651.6,437.3 698.2,438.5 744.7,438.7 791.3,437.6 837.8,438.7 884.4,448.1 930.9,458.5 977.4,466.4 1024.0,474.9 1070.5,469.3 1117.1,453.7 1163.6,433.6 1210.1,413.0 1256.7,393.7 1303.2,380.3" stroke-width="3"/>
</g>
<g stroke="#000" stroke-width="1" fill="none" shape-rendering="crispEdges">
<rect x="209.5" y="66.5" width="1117" height="792"/>
<path d="M209 858.5h24M1327 858.5h-24"/>
<path d="M209 844.5h12M1327 844.5h-12"/>
<path d="M209 829.5h12M1327 829.5h-12"/>
<path d="M209 815.5h12M1327 815.5h-12"/>
<path d="M209 800.5h12M1327 800.5h-12"/>
<path d="M209 786.5h12M1327 786.5h-12"/>
<path d="M209 772.5h12M1327 772.5h-12"/>
<path d="M209 757.5h12M1327 757.5h-12"/>
<path d="M209 743.5h12M1327 743.5h-12"/>
<path d="M209 728.5h12M1327 728.5h-12"/>
<path d="M209 714.5h24M1327 714.5h-24"/>
<path d="M209 700.5h12M1327 700.5h-12"/>
<path d="M209 685.5h12M1327 685.5h-12"/>
<path d="M209 671.5h12M1327 671.5h-12"/>
<path d="M209 656.5h12M1327 656.5h-12"/>
<path d="M209 642.5h12M1327 642.5h-12"/>
<path d="M209 628.5h12M1327 628.5h-12"/>
<path d="M209 613.5h12M1327 613.5h-12"/>
<path d="M209 599.5h12M1327 599.5h-12"/>
<path d="M209 584.5h12M1327 584.5h-12"/>
<path d="M209 570.5h24M1327 570.5h-24"/>
<path d="M209 556.5h12M1327 556.5h-12"/>
<path d="M209 541.5h12M1327 541.5h-12"/>
<path d="M209 527.5h12M1327 527.5h-12"/>
<path d="M209 512.5h12M1327 512.5h-12"/>
<path d="M209 498.5h12M1327 498.5h-12"/>
<path d="M209 484.5h12M1327 484.5h-12"/>
<path d="M209 469.5h12M1327 469.5h-12"/>
<path d="M209 455.5h12M1327 455.5h-12"/>
<path d="M209 440.5h12M1327 440.5h-12"/>
<path d="M209 426.5h24M1327 426.5h-24"/>
<path d="M209 412.5h12M1327 412.5h-12"/>
<path d="M209 397.5h12M1327 397.5h-12"/>
<path d="M209 383.5h12M1327 383.5h-12"/>
<path d="M209 368.5h12M1327 368.5h-12"/>
<path d="M209 354.5h12M1327 354.5h-12"/>
<path d="M209 340.5h12M1327 340.5h-12"/>
<path d="M209 325.5h12M1327 325.5h-12"/>
<path d="M209 311.5h12M1327 311.5h-12"/>
<path d="M209 296.5h12M1327 296.5h-12"/>
<path d="M209 282.5h24M1327 282.5h-24"/>
<path d="M209 268.5h12M1327 268.5h-12"/>
<path d="M209 253.5h12M1327 253.5h-12"/>
<path d="M209 239.5h12M1327 239.5h-12"/>
<path d="M209 224.5h12M1327 224.5h-12"/>
<path d="M209 210.5h12M1327 210.5h-12"/>
<path d="M209 196.5h12M1327 196.5h-12"/>
<path d="M209 181.5h12M1327 181.5h-12"/>
<path d="M209 167.5h12M1327 167.5h-12"/>
<path d="M209 152.5h12M1327 152.5h-12"/>
<path d="M209 138.5h24M1327 138.5h-24"/>
<path d="M209 124.5h12M1327 124.5h-12"/>
<path d="M209 109.5h12M1327 109.5h-12"/>
<path d="M209 95.5h12M1327 95.5h-12"/>
<path d="M209 80.5h12M1327 80.5h-12"/>
<path d="M209 66.5h12M1327 66.5h-12"/>
<path d="M209.5 66v16M209.5 859v-16"/>
<path d="M256.5 66v8M256.5 859v-8"/>
<path d="M302.5 66v8M302.5 859v-8"/>
<path d="M349.5 66v16M349.5 859v-16"/>
<path d="M395.5 66v8M395.5 859v-8"/>
<path d="M442.5 66v8M442.5 859v-8"/>
<path d="M488.5 66v16M488.5 859v-16"/>
<path d="M535.5 66v8M535.5 859v-8"/>
<path d="M581.5 66v8M581.5 859v-8"/>
<path d="M628.5 66v16M628.5 859v-16"/>
<path d="M674.5 66v8M674.5 859v-8"/>
<path d="M721.5 66v8M721.5 859v-8"/>
<path d="M768.5 66v16M768.5 859v-16"/>
<path d="M814.5 66v8M814.5 859v-8"/>
<path d="M861.5 66v8M861.5 859v-8"/>
<path d="M907.5 66v16M907.5 859v-16"/>
<path d="M954.5 66v8M954.5 859v-8"/>
<path d="M1000.5 66v8M1000.5 859v-8"/>
<path d="M1047.5 66v16M1047.5 859v-16"/>
<path d="M1093.5 66v8M1093.5 859v-8"/>
<path d="M1140.5 66v8M1140.5 859v-8"/>
<path d="M1186.5 66v16M1186.5 859v-16"/>
<path d="M1233.5 66v8M1233.5 859v-8"/>
<path d="M1279.5 66v8M1279.5 859v-8"/>
<path d="M1326.5 66v16M1326.5 859v-16"/>
<path d="M209.5 830.5H256.5V858"/>
</g>
<rect x="907.5" y="925.5" width="419" height="17" fill="url(#cb)"/>
<path d="M907 925.5H1327M907 942.5H1327M1326.5 925V943" stroke="#000" stroke-width="1" fill="none" shape-rendering="crispEdges"/>
<g stroke="#000" stroke-width="1" shape-rendering="crispEdges">
<path d="M908.5 926v2M908.5 942v-2"/>
<path d="M918.5 926v2M918.5 942v-2"/>
<path d="M929.5 926v2M929.5 942v-2"/>
<path d="M939.5 926v2M939.5 942v-2"/>
<path d="M950.5 926v2M950.5 942v-2"/>
<path d="M960.5 926v2M960.5 942v-2"/>
<path d="M970.5 926v2M970.5 942v-2"/>
<path d="M981.5 926v2M981.5 942v-2"/>
<path d="M991.5 926v2M991.5 942v-2"/>
<path d="M1002.5 926v2M1002.5 942v-2"/>
<path d="M1012.5 926v2M1012.5 942v-2"/>
<path d="M1023.5 926v2M1023.5 942v-2"/>
<path d="M1033.5 926v2M1033.5 942v-2"/>
<path d="M1044.5 926v2M1044.5 942v-2"/>
<path d="M1054.5 926v2M1054.5 942v-2"/>
<path d="M1065.5 926v2M1065.5 942v-2"/>
<path d="M1075.5 926v2M1075.5 942v-2"/>
<path d="M1086.5 926v2M1086.5 942v-2"/>
<path d="M1096.5 926v2M1096.5 942v-2"/>
<path d="M1107.5 926v2M1107.5 942v-2"/>
<path d="M1117.5 926v2M1117.5 942v-2"/>
<path d="M1128.5 926v2M1128.5 942v-2"/>
<path d="M1138.5 926v2M1138.5 942v-2"/>
<path d="M1149.5 926v2M1149.5 942v-2"/>
<path d="M1159.5 926v2M1159.5 942v-2"/>
<path d="M1170.5 926v2M1170.5 942v-2"/>
<path d="M1180.5 926v2M1180.5 942v-2"/>
<path d="M1191.5 926v2M1191.5 942v-2"/>
<path d="M1201.5 926v2M1201.5 942v-2"/>
<path d="M1212.5 926v2M1212.5 942v-2"/>
<path d="M1222.5 926v2M1222.5 942v-2"/>
<path d="M1232.5 926v2M1232.5 942v-2"/>
<path d="M1243.5 926v2M1243.5 942v-2"/>
<path d="M1253.5 926v2M1253.5 942v-2"/>
<path d="M1264.5 926v2M1264.5 942v-2"/>
<path d="M1274.5 926v2M1274.5 942v-2"/>
<path d="M1285.5 926v2M1285.5 942v-2"/>
<path d="M1295.5 926v2M1295.5 942v-2"/>
<path d="M1306.5 926v2M1306.5 942v-2"/>
<path d="M1316.5 926v2M1316.5 942v-2"/>
<path d="M1326.5 926v2M1326.5 942v-2"/>
</g>
<g font-family="'Liberation Sans', Arial, Helvetica, sans-serif" fill="#000">
<text x="768" y="46" font-size="51" text-anchor="middle" textLength="1005" lengthAdjust="spacingAndGlyphs">statS4 : 13.03.2018/22:20 - 18.03.2025/17:30</text>
<text x="199" y="151.7" font-size="40" text-anchor="end">2</text>
<text x="199" y="295.7" font-size="40" text-anchor="end">1</text>
<text x="199" y="439.7" font-size="40" text-anchor="end">0</text>
<text x="199" y="583.7" font-size="40" text-anchor="end">-1</text>
<text x="199" y="727.7" font-size="40" text-anchor="end">-2</text>
<text x="199" y="858" font-size="40" text-anchor="end">-3</text>
<text x="209.5" y="909" font-size="40" text-anchor="middle">0</text>
<text x="349.1" y="909" font-size="40" text-anchor="middle">3</text>
<text x="488.8" y="909" font-size="40" text-anchor="middle">6</text>
<text x="628.4" y="909" font-size="40" text-anchor="middle">9</text>
<text x="768.0" y="909" font-size="40" text-anchor="middle">12</text>
<text x="907.6" y="909" font-size="40" text-anchor="middle">15</text>
<text x="1047.2" y="909" font-size="40" text-anchor="middle">18</text>
<text x="1186.9" y="909" font-size="40" text-anchor="middle">21</text>
<text x="1326.5" y="909" font-size="40" text-anchor="middle">24</text>
<text x="767" y="952.5" font-size="40" text-anchor="middle">time (UTC)</text>
<text transform="translate(132.5 462.5) rotate(-90)" font-size="40" text-anchor="middle">dq [g/kg]</text>
<text x="907.5" y="967" font-size="20" text-anchor="middle">0</text>
<text x="1012.4" y="967" font-size="20" text-anchor="middle">1000</text>
<text x="1117.2" y="967" font-size="20" text-anchor="middle">2000</text>
<text x="1222.1" y="967" font-size="20" text-anchor="middle">3000</text>
<text x="1327.0" y="967" font-size="20" text-anchor="middle">4000</text>
<text x="1117" y="988.3" font-size="20" text-anchor="middle">freq. of occ. / bin</text>
<text x="64" y="900.6" font-size="19.5" xml:space="preserve" style="white-space:pre">50%</text>
<text x="64" y="916.5" font-size="19.5" xml:space="preserve" style="white-space:pre">25 &amp;  75%</text>
<text x="64" y="933.0" font-size="19.5" xml:space="preserve" style="white-space:pre"> 5 &amp;  95%</text>
<text x="64" y="950.3" font-size="19.5" xml:space="preserve" style="white-space:pre"> 1 &amp;  99%</text>
<text x="64" y="966.5" font-size="19.5" xml:space="preserve" style="white-space:pre"> 0 &amp; 100%</text>
</g>
<g stroke="#000080" fill="none" shape-rendering="crispEdges">
<path d="M11 892.5H59" stroke-width="3"/>
<path d="M11 908.5H59" stroke-width="3" stroke-dasharray="11 8"/>
<path d="M11 925H59" stroke-width="2" stroke-dasharray="11 8"/>
<path d="M11 942.5H59" stroke-width="1" stroke-dasharray="2.5 4.2"/>
<path d="M11 958.5H59" stroke-width="1" stroke-dasharray="2.5 4.2"/>
</g>
</svg>
</body></html>
